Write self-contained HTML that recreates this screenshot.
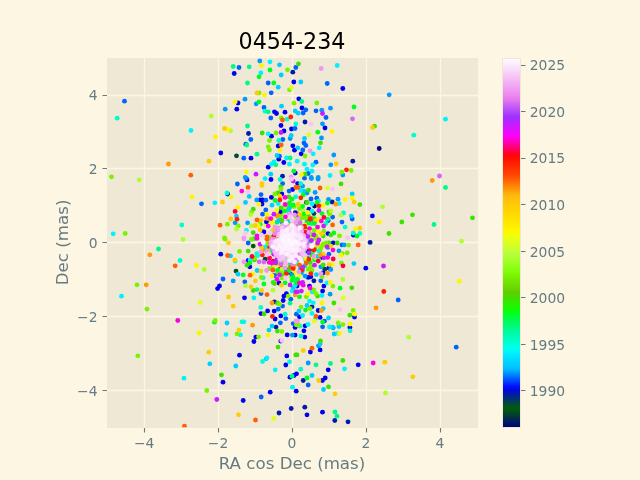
<!DOCTYPE html>
<html><head><meta charset="utf-8"><title>0454-234</title>
<style>html,body{margin:0;padding:0;background:#fdf6e3}svg{display:block}text{font-family:'DejaVu Sans','Liberation Sans',sans-serif}</style></head><body>
<svg width="640" height="480" viewBox="0 0 640 480">
<rect width="640" height="480" fill="#fdf6e3"/>
<rect x="107" y="58" width="371" height="370" fill="#eee8d5"/>
<path d="M144.5 58V428M218.5 58V428M292.5 58V428M366.5 58V428M440.5 58V428M107 390.5H478M107 316.5H478M107 242.5H478M107 168.5H478M107 95.5H478" stroke="#fdf6e3" stroke-width="1.3" fill="none"/>
<defs><clipPath id="c"><rect x="107.20" y="57.60" width="369.60" height="369.60"/></clipPath></defs>
<g clip-path="url(#c)">
<circle cx="292.0" cy="241.0" r="2.42" fill="#adff30"/>
<circle cx="297.4" cy="243.3" r="2.42" fill="#fff500"/>
<circle cx="286.7" cy="240.6" r="2.42" fill="#fff500"/>
<circle cx="274.9" cy="240.5" r="2.42" fill="#00f2ff"/>
<circle cx="284.0" cy="245.1" r="2.42" fill="#7af200"/>
<circle cx="310.2" cy="234.2" r="2.42" fill="#009bff"/>
<circle cx="293.1" cy="240.6" r="2.42" fill="#00ceff"/>
<circle cx="310.2" cy="262.6" r="2.42" fill="#40e100"/>
<circle cx="297.5" cy="250.1" r="2.42" fill="#dfff1c"/>
<circle cx="282.0" cy="248.8" r="2.42" fill="#00fdd1"/>
<circle cx="296.7" cy="231.4" r="2.42" fill="#00ceff"/>
<circle cx="287.1" cy="235.3" r="2.42" fill="#fff500"/>
<circle cx="291.7" cy="238.6" r="2.42" fill="#7af200"/>
<circle cx="276.1" cy="231.2" r="2.42" fill="#fff500"/>
<circle cx="292.1" cy="241.6" r="2.42" fill="#009bff"/>
<circle cx="297.5" cy="226.6" r="2.42" fill="#ff2100"/>
<circle cx="317.7" cy="243.7" r="2.42" fill="#fff500"/>
<circle cx="289.2" cy="231.1" r="2.42" fill="#ffcb06"/>
<circle cx="300.5" cy="268.6" r="2.42" fill="#009bff"/>
<circle cx="287.6" cy="242.0" r="2.42" fill="#adff30"/>
<circle cx="316.0" cy="236.5" r="2.42" fill="#7af200"/>
<circle cx="286.9" cy="239.5" r="2.42" fill="#00f2ff"/>
<circle cx="294.8" cy="242.3" r="2.42" fill="#ff2100"/>
<circle cx="288.8" cy="242.8" r="2.42" fill="#fff500"/>
<circle cx="286.5" cy="230.6" r="2.42" fill="#ffcb06"/>
<circle cx="292.9" cy="241.4" r="2.42" fill="#dfff1c"/>
<circle cx="292.0" cy="243.6" r="2.42" fill="#00f2ff"/>
<circle cx="321.2" cy="245.0" r="2.42" fill="#fff500"/>
<circle cx="283.1" cy="238.3" r="2.42" fill="#40e100"/>
<circle cx="278.2" cy="256.1" r="2.42" fill="#dfff1c"/>
<circle cx="276.5" cy="240.6" r="2.42" fill="#7af200"/>
<circle cx="286.2" cy="264.2" r="2.42" fill="#ffcb06"/>
<circle cx="283.4" cy="225.7" r="2.42" fill="#7af200"/>
<circle cx="292.3" cy="241.7" r="2.42" fill="#00fa88"/>
<circle cx="306.1" cy="229.8" r="2.42" fill="#adff30"/>
<circle cx="302.9" cy="237.7" r="2.42" fill="#adff30"/>
<circle cx="289.9" cy="241.1" r="2.42" fill="#00fa88"/>
<circle cx="289.9" cy="241.5" r="2.42" fill="#7af200"/>
<circle cx="292.8" cy="239.9" r="2.42" fill="#adff30"/>
<circle cx="286.2" cy="268.1" r="2.42" fill="#00fe1f"/>
<circle cx="292.5" cy="239.4" r="2.42" fill="#00ceff"/>
<circle cx="285.9" cy="271.1" r="2.42" fill="#00fe1f"/>
<circle cx="286.4" cy="206.4" r="2.42" fill="#ffcb06"/>
<circle cx="283.7" cy="257.9" r="2.42" fill="#00ceff"/>
<circle cx="290.2" cy="239.4" r="2.42" fill="#40e100"/>
<circle cx="303.0" cy="234.4" r="2.42" fill="#7af200"/>
<circle cx="305.8" cy="246.8" r="2.42" fill="#fff500"/>
<circle cx="300.1" cy="215.4" r="2.42" fill="#00fe1f"/>
<circle cx="290.6" cy="240.6" r="2.42" fill="#ff00e6"/>
<circle cx="284.0" cy="250.1" r="2.42" fill="#40e100"/>
<circle cx="289.9" cy="244.5" r="2.42" fill="#40e100"/>
<circle cx="303.9" cy="247.6" r="2.42" fill="#ffcb06"/>
<circle cx="291.9" cy="242.5" r="2.42" fill="#40e100"/>
<circle cx="282.8" cy="230.4" r="2.42" fill="#adff30"/>
<circle cx="314.6" cy="259.9" r="2.42" fill="#00fe1f"/>
<circle cx="285.7" cy="227.5" r="2.42" fill="#adff30"/>
<circle cx="295.8" cy="239.9" r="2.42" fill="#7af200"/>
<circle cx="300.8" cy="239.7" r="2.42" fill="#ff00e6"/>
<circle cx="293.9" cy="239.1" r="2.42" fill="#40e100"/>
<circle cx="299.9" cy="215.6" r="2.42" fill="#00fdd1"/>
<circle cx="296.9" cy="252.9" r="2.42" fill="#00ceff"/>
<circle cx="295.7" cy="240.2" r="2.42" fill="#7af200"/>
<circle cx="297.1" cy="260.6" r="2.42" fill="#7af200"/>
<circle cx="307.0" cy="221.9" r="2.42" fill="#009bff"/>
<circle cx="310.3" cy="220.1" r="2.42" fill="#0000ee"/>
<circle cx="281.0" cy="228.4" r="2.42" fill="#40e100"/>
<circle cx="279.7" cy="239.0" r="2.42" fill="#0000ee"/>
<circle cx="294.7" cy="251.1" r="2.42" fill="#ff2100"/>
<circle cx="290.1" cy="240.7" r="2.42" fill="#fff500"/>
<circle cx="285.9" cy="268.7" r="2.42" fill="#0055ff"/>
<circle cx="301.3" cy="252.2" r="2.42" fill="#fff500"/>
<circle cx="296.4" cy="246.4" r="2.42" fill="#fff500"/>
<circle cx="294.2" cy="233.0" r="2.42" fill="#dfff1c"/>
<circle cx="296.2" cy="238.3" r="2.42" fill="#ffcb06"/>
<circle cx="310.4" cy="268.0" r="2.42" fill="#dfff1c"/>
<circle cx="300.2" cy="241.8" r="2.42" fill="#7af200"/>
<circle cx="291.5" cy="247.9" r="2.42" fill="#dfff1c"/>
<circle cx="296.5" cy="247.0" r="2.42" fill="#fff500"/>
<circle cx="292.9" cy="243.6" r="2.42" fill="#7af200"/>
<circle cx="288.7" cy="238.8" r="2.42" fill="#40e100"/>
<circle cx="273.1" cy="252.9" r="2.42" fill="#7af200"/>
<circle cx="291.8" cy="241.1" r="2.42" fill="#00fe1f"/>
<circle cx="294.3" cy="250.7" r="2.42" fill="#40e100"/>
<circle cx="280.6" cy="218.1" r="2.42" fill="#7af200"/>
<circle cx="288.9" cy="255.4" r="2.42" fill="#fff500"/>
<circle cx="291.6" cy="241.3" r="2.42" fill="#00f2ff"/>
<circle cx="279.5" cy="244.5" r="2.42" fill="#40e100"/>
<circle cx="297.4" cy="236.6" r="2.42" fill="#00fe1f"/>
<circle cx="292.5" cy="265.0" r="2.42" fill="#00ceff"/>
<circle cx="292.0" cy="240.9" r="2.42" fill="#00fe1f"/>
<circle cx="287.9" cy="253.4" r="2.42" fill="#00fa88"/>
<circle cx="311.5" cy="222.9" r="2.42" fill="#ff00e6"/>
<circle cx="286.8" cy="245.9" r="2.42" fill="#00fe1f"/>
<circle cx="286.2" cy="240.8" r="2.42" fill="#00fe1f"/>
<circle cx="304.4" cy="226.7" r="2.42" fill="#40e100"/>
<circle cx="290.5" cy="237.7" r="2.42" fill="#00fdd1"/>
<circle cx="305.2" cy="251.6" r="2.42" fill="#ff990a"/>
<circle cx="299.8" cy="251.8" r="2.42" fill="#ff2100"/>
<circle cx="295.9" cy="240.7" r="2.42" fill="#40e100"/>
<circle cx="301.3" cy="243.0" r="2.42" fill="#00ceff"/>
<circle cx="290.9" cy="244.8" r="2.42" fill="#0000ee"/>
<circle cx="295.8" cy="239.8" r="2.42" fill="#ff00e6"/>
<circle cx="305.4" cy="242.5" r="2.42" fill="#ffcb06"/>
<circle cx="297.3" cy="251.1" r="2.42" fill="#ffcb06"/>
<circle cx="296.5" cy="263.9" r="2.42" fill="#7af200"/>
<circle cx="293.3" cy="241.9" r="2.42" fill="#adff30"/>
<circle cx="291.3" cy="241.1" r="2.42" fill="#fff500"/>
<circle cx="275.1" cy="227.8" r="2.42" fill="#40e100"/>
<circle cx="289.9" cy="246.4" r="2.42" fill="#fff500"/>
<circle cx="304.8" cy="253.3" r="2.42" fill="#00f2ff"/>
<circle cx="299.0" cy="220.4" r="2.42" fill="#40e100"/>
<circle cx="293.2" cy="236.9" r="2.42" fill="#009bff"/>
<circle cx="290.4" cy="240.2" r="2.42" fill="#fff500"/>
<circle cx="299.4" cy="251.3" r="2.42" fill="#009bff"/>
<circle cx="289.8" cy="240.3" r="2.42" fill="#7af200"/>
<circle cx="277.1" cy="222.2" r="2.42" fill="#00fe1f"/>
<circle cx="285.7" cy="244.6" r="2.42" fill="#ff00e6"/>
<circle cx="302.7" cy="226.4" r="2.42" fill="#40e100"/>
<circle cx="280.8" cy="252.0" r="2.42" fill="#00ceff"/>
<circle cx="275.8" cy="239.7" r="2.42" fill="#ff2100"/>
<circle cx="303.3" cy="252.7" r="2.42" fill="#7af200"/>
<circle cx="289.7" cy="239.8" r="2.42" fill="#7af200"/>
<circle cx="295.0" cy="206.1" r="2.42" fill="#adff30"/>
<circle cx="289.2" cy="212.7" r="2.42" fill="#ff00e6"/>
<circle cx="290.8" cy="273.8" r="2.42" fill="#0000ee"/>
<circle cx="293.3" cy="240.9" r="2.42" fill="#dfff1c"/>
<circle cx="291.0" cy="234.9" r="2.42" fill="#40e100"/>
<circle cx="289.3" cy="242.7" r="2.42" fill="#00ceff"/>
<circle cx="275.9" cy="252.3" r="2.42" fill="#ff990a"/>
<circle cx="295.9" cy="216.4" r="2.42" fill="#7af200"/>
<circle cx="296.7" cy="252.1" r="2.42" fill="#ff2100"/>
<circle cx="291.4" cy="240.1" r="2.42" fill="#00ceff"/>
<circle cx="289.0" cy="223.3" r="2.42" fill="#adff30"/>
<circle cx="280.0" cy="239.5" r="2.42" fill="#0000ee"/>
<circle cx="309.1" cy="220.2" r="2.42" fill="#ff00e6"/>
<circle cx="268.3" cy="246.6" r="2.42" fill="#ff2100"/>
<circle cx="289.1" cy="241.8" r="2.42" fill="#ff990a"/>
<circle cx="288.0" cy="262.5" r="2.42" fill="#00fe1f"/>
<circle cx="292.2" cy="240.9" r="2.42" fill="#dfff1c"/>
<circle cx="286.6" cy="255.5" r="2.42" fill="#00f2ff"/>
<circle cx="289.9" cy="234.0" r="2.42" fill="#ffcb06"/>
<circle cx="282.9" cy="247.9" r="2.42" fill="#009bff"/>
<circle cx="292.1" cy="240.9" r="2.42" fill="#dfff1c"/>
<circle cx="298.8" cy="238.3" r="2.42" fill="#adff30"/>
<circle cx="297.7" cy="242.3" r="2.42" fill="#00fa88"/>
<circle cx="318.5" cy="239.9" r="2.42" fill="#40e100"/>
<circle cx="279.8" cy="229.7" r="2.42" fill="#40e100"/>
<circle cx="320.4" cy="257.9" r="2.42" fill="#0000ee"/>
<circle cx="279.1" cy="241.3" r="2.42" fill="#0055ff"/>
<circle cx="311.3" cy="248.4" r="2.42" fill="#dfff1c"/>
<circle cx="285.8" cy="238.7" r="2.42" fill="#adff30"/>
<circle cx="302.7" cy="270.5" r="2.42" fill="#00fdd1"/>
<circle cx="273.2" cy="265.5" r="2.42" fill="#40e100"/>
<circle cx="290.7" cy="245.5" r="2.42" fill="#fff500"/>
<circle cx="282.3" cy="232.4" r="2.42" fill="#adff30"/>
<circle cx="298.2" cy="225.9" r="2.42" fill="#7af200"/>
<circle cx="292.4" cy="240.8" r="2.42" fill="#ffcb06"/>
<circle cx="291.3" cy="242.4" r="2.42" fill="#7af200"/>
<circle cx="278.9" cy="233.7" r="2.42" fill="#0000ee"/>
<circle cx="300.7" cy="241.4" r="2.42" fill="#40e100"/>
<circle cx="284.8" cy="249.8" r="2.42" fill="#00fdd1"/>
<circle cx="294.7" cy="240.2" r="2.42" fill="#adff30"/>
<circle cx="307.6" cy="258.2" r="2.42" fill="#009bff"/>
<circle cx="308.0" cy="220.8" r="2.42" fill="#ff00e6"/>
<circle cx="277.3" cy="216.1" r="2.42" fill="#7af200"/>
<circle cx="289.3" cy="252.1" r="2.42" fill="#fff500"/>
<circle cx="293.0" cy="234.5" r="2.42" fill="#40e100"/>
<circle cx="291.8" cy="241.7" r="2.42" fill="#0055ff"/>
<circle cx="298.7" cy="234.8" r="2.42" fill="#40e100"/>
<circle cx="300.5" cy="246.8" r="2.42" fill="#7af200"/>
<circle cx="300.9" cy="250.8" r="2.42" fill="#40e100"/>
<circle cx="292.0" cy="234.1" r="2.42" fill="#00fdd1"/>
<circle cx="289.2" cy="242.1" r="2.42" fill="#00f2ff"/>
<circle cx="292.3" cy="241.4" r="2.42" fill="#009bff"/>
<circle cx="269.5" cy="238.7" r="2.42" fill="#7af200"/>
<circle cx="288.2" cy="255.8" r="2.42" fill="#00f2ff"/>
<circle cx="285.0" cy="238.3" r="2.42" fill="#adff30"/>
<circle cx="291.6" cy="228.2" r="2.42" fill="#00fdd1"/>
<circle cx="308.5" cy="216.3" r="2.42" fill="#40e100"/>
<circle cx="309.0" cy="248.8" r="2.42" fill="#ff00e6"/>
<circle cx="276.5" cy="228.9" r="2.42" fill="#7af200"/>
<circle cx="294.7" cy="240.7" r="2.42" fill="#fff500"/>
<circle cx="281.9" cy="244.1" r="2.42" fill="#adff30"/>
<circle cx="293.8" cy="223.3" r="2.42" fill="#ffcb06"/>
<circle cx="305.1" cy="251.9" r="2.42" fill="#0055ff"/>
<circle cx="304.4" cy="226.0" r="2.42" fill="#dfff1c"/>
<circle cx="284.4" cy="235.9" r="2.42" fill="#00fdd1"/>
<circle cx="314.2" cy="218.7" r="2.42" fill="#00fe1f"/>
<circle cx="297.5" cy="213.3" r="2.42" fill="#ff990a"/>
<circle cx="303.3" cy="226.6" r="2.42" fill="#00fe1f"/>
<circle cx="300.9" cy="245.0" r="2.42" fill="#7af200"/>
<circle cx="288.4" cy="221.5" r="2.42" fill="#40e100"/>
<circle cx="301.3" cy="273.0" r="2.42" fill="#009bff"/>
<circle cx="289.8" cy="267.0" r="2.42" fill="#00fa88"/>
<circle cx="284.9" cy="257.6" r="2.42" fill="#00ceff"/>
<circle cx="275.6" cy="228.4" r="2.42" fill="#40e100"/>
<circle cx="291.8" cy="240.8" r="2.42" fill="#0000ee"/>
<circle cx="306.6" cy="233.0" r="2.42" fill="#fff500"/>
<circle cx="323.5" cy="244.0" r="2.42" fill="#7af200"/>
<circle cx="293.7" cy="246.5" r="2.42" fill="#0055ff"/>
<circle cx="291.4" cy="241.8" r="2.42" fill="#ff00e6"/>
<circle cx="294.0" cy="235.9" r="2.42" fill="#00fa88"/>
<circle cx="291.3" cy="240.7" r="2.42" fill="#00fe1f"/>
<circle cx="275.5" cy="239.5" r="2.42" fill="#7af200"/>
<circle cx="293.9" cy="206.6" r="2.42" fill="#7af200"/>
<circle cx="290.2" cy="237.9" r="2.42" fill="#adff30"/>
<circle cx="287.4" cy="262.5" r="2.42" fill="#7af200"/>
<circle cx="318.9" cy="260.5" r="2.42" fill="#adff30"/>
<circle cx="282.6" cy="243.7" r="2.42" fill="#00fe1f"/>
<circle cx="292.9" cy="240.0" r="2.42" fill="#dfff1c"/>
<circle cx="285.6" cy="235.6" r="2.42" fill="#ffcb06"/>
<circle cx="309.9" cy="248.4" r="2.42" fill="#009bff"/>
<circle cx="280.3" cy="246.5" r="2.42" fill="#009bff"/>
<circle cx="277.6" cy="256.1" r="2.42" fill="#00f2ff"/>
<circle cx="277.2" cy="231.0" r="2.42" fill="#00fe1f"/>
<circle cx="288.8" cy="238.7" r="2.42" fill="#00fe1f"/>
<circle cx="306.3" cy="235.6" r="2.42" fill="#fff500"/>
<circle cx="288.4" cy="247.9" r="2.42" fill="#00fa88"/>
<circle cx="286.5" cy="245.2" r="2.42" fill="#ff990a"/>
<circle cx="271.8" cy="220.2" r="2.42" fill="#fff500"/>
<circle cx="304.9" cy="227.7" r="2.42" fill="#ff2100"/>
<circle cx="291.5" cy="239.0" r="2.42" fill="#ff00e6"/>
<circle cx="291.7" cy="241.1" r="2.42" fill="#0055ff"/>
<circle cx="303.0" cy="210.6" r="2.42" fill="#adff30"/>
<circle cx="283.2" cy="242.0" r="2.42" fill="#ffcb06"/>
<circle cx="305.9" cy="237.2" r="2.42" fill="#0000ee"/>
<circle cx="291.7" cy="242.8" r="2.42" fill="#00ceff"/>
<circle cx="293.1" cy="242.3" r="2.42" fill="#00fa88"/>
<circle cx="294.7" cy="235.2" r="2.42" fill="#00f2ff"/>
<circle cx="285.5" cy="266.2" r="2.42" fill="#fff500"/>
<circle cx="292.2" cy="240.6" r="2.42" fill="#00ceff"/>
<circle cx="281.7" cy="231.0" r="2.42" fill="#ff2100"/>
<circle cx="281.8" cy="240.3" r="2.42" fill="#00fe1f"/>
<circle cx="313.9" cy="256.8" r="2.42" fill="#7af200"/>
<circle cx="292.2" cy="240.0" r="2.42" fill="#40e100"/>
<circle cx="312.6" cy="251.8" r="2.42" fill="#00fe1f"/>
<circle cx="309.6" cy="236.3" r="2.42" fill="#ffcb06"/>
<circle cx="307.5" cy="223.0" r="2.42" fill="#00fe1f"/>
<circle cx="291.0" cy="244.4" r="2.42" fill="#ff00e6"/>
<circle cx="292.6" cy="241.8" r="2.42" fill="#adff30"/>
<circle cx="292.8" cy="240.2" r="2.42" fill="#00fe1f"/>
<circle cx="291.3" cy="241.1" r="2.42" fill="#ffcb06"/>
<circle cx="302.9" cy="254.0" r="2.42" fill="#00fa88"/>
<circle cx="281.4" cy="241.1" r="2.42" fill="#00fe1f"/>
<circle cx="292.1" cy="245.9" r="2.42" fill="#ff990a"/>
<circle cx="275.2" cy="254.0" r="2.42" fill="#00f2ff"/>
<circle cx="285.8" cy="232.0" r="2.42" fill="#ff990a"/>
<circle cx="303.3" cy="233.1" r="2.42" fill="#0000ee"/>
<circle cx="298.6" cy="217.3" r="2.42" fill="#0000ee"/>
<circle cx="304.9" cy="265.6" r="2.42" fill="#00ceff"/>
<circle cx="289.4" cy="241.4" r="2.42" fill="#adff30"/>
<circle cx="291.9" cy="241.0" r="2.42" fill="#ffcb06"/>
<circle cx="317.4" cy="239.0" r="2.42" fill="#ffcb06"/>
<circle cx="316.0" cy="258.3" r="2.42" fill="#adff30"/>
<circle cx="283.1" cy="240.3" r="2.42" fill="#adff30"/>
<circle cx="304.7" cy="232.0" r="2.42" fill="#ff00e6"/>
<circle cx="286.1" cy="246.1" r="2.42" fill="#ff2100"/>
<circle cx="291.6" cy="246.7" r="2.42" fill="#0055ff"/>
<circle cx="290.9" cy="240.5" r="2.42" fill="#7af200"/>
<circle cx="291.3" cy="242.7" r="2.42" fill="#00fe1f"/>
<circle cx="310.5" cy="230.1" r="2.42" fill="#00ceff"/>
<circle cx="296.5" cy="244.1" r="2.42" fill="#fff500"/>
<circle cx="292.9" cy="244.9" r="2.42" fill="#7af200"/>
<circle cx="311.7" cy="254.6" r="2.42" fill="#adff30"/>
<circle cx="290.5" cy="233.6" r="2.42" fill="#7af200"/>
<circle cx="292.0" cy="241.1" r="2.42" fill="#0055ff"/>
<circle cx="315.8" cy="220.5" r="2.42" fill="#ffcb06"/>
<circle cx="300.4" cy="233.2" r="2.42" fill="#40e100"/>
<circle cx="298.9" cy="237.5" r="2.42" fill="#00fdd1"/>
<circle cx="290.8" cy="276.7" r="2.42" fill="#adff30"/>
<circle cx="310.5" cy="241.1" r="2.42" fill="#00fa88"/>
<circle cx="278.6" cy="254.6" r="2.42" fill="#adff30"/>
<circle cx="304.5" cy="237.4" r="2.42" fill="#7af200"/>
<circle cx="292.2" cy="238.5" r="2.42" fill="#40e100"/>
<circle cx="295.9" cy="242.8" r="2.42" fill="#009bff"/>
<circle cx="290.6" cy="235.5" r="2.42" fill="#00f2ff"/>
<circle cx="295.4" cy="238.7" r="2.42" fill="#ffcb06"/>
<circle cx="293.0" cy="240.8" r="2.42" fill="#ff00e6"/>
<circle cx="285.8" cy="207.3" r="2.42" fill="#7af200"/>
<circle cx="299.0" cy="231.4" r="2.42" fill="#40e100"/>
<circle cx="292.6" cy="239.9" r="2.42" fill="#00f2ff"/>
<circle cx="285.0" cy="251.3" r="2.42" fill="#dfff1c"/>
<circle cx="301.9" cy="249.4" r="2.42" fill="#adff30"/>
<circle cx="287.7" cy="204.8" r="2.42" fill="#7af200"/>
<circle cx="298.3" cy="249.8" r="2.42" fill="#00fa88"/>
<circle cx="291.0" cy="242.0" r="2.42" fill="#0055ff"/>
<circle cx="298.6" cy="240.8" r="2.42" fill="#ff00e6"/>
<circle cx="272.2" cy="231.7" r="2.42" fill="#00fdd1"/>
<circle cx="290.7" cy="240.8" r="2.42" fill="#adff30"/>
<circle cx="307.9" cy="234.6" r="2.42" fill="#0055ff"/>
<circle cx="290.4" cy="249.7" r="2.42" fill="#adff30"/>
<circle cx="296.4" cy="241.0" r="2.42" fill="#00f2ff"/>
<circle cx="295.6" cy="238.4" r="2.42" fill="#dfff1c"/>
<circle cx="290.6" cy="242.9" r="2.42" fill="#00f2ff"/>
<circle cx="277.7" cy="273.1" r="2.42" fill="#7af200"/>
<circle cx="295.2" cy="244.8" r="2.42" fill="#40e100"/>
<circle cx="306.2" cy="231.2" r="2.42" fill="#7af200"/>
<circle cx="298.7" cy="259.6" r="2.42" fill="#00fe1f"/>
<circle cx="306.8" cy="242.0" r="2.42" fill="#00fe1f"/>
<circle cx="300.5" cy="232.6" r="2.42" fill="#00fe1f"/>
<circle cx="268.1" cy="220.9" r="2.42" fill="#adff30"/>
<circle cx="289.2" cy="234.7" r="2.42" fill="#fff500"/>
<circle cx="290.8" cy="227.4" r="2.42" fill="#00fe1f"/>
<circle cx="295.5" cy="242.2" r="2.42" fill="#0000ee"/>
<circle cx="292.0" cy="241.0" r="2.42" fill="#00f2ff"/>
<circle cx="272.9" cy="241.0" r="2.42" fill="#009bff"/>
<circle cx="300.4" cy="244.3" r="2.42" fill="#adff30"/>
<circle cx="287.0" cy="240.8" r="2.42" fill="#fff500"/>
<circle cx="291.7" cy="236.4" r="2.42" fill="#00f2ff"/>
<circle cx="281.0" cy="221.1" r="2.42" fill="#7af200"/>
<circle cx="287.4" cy="236.1" r="2.42" fill="#40e100"/>
<circle cx="314.9" cy="249.2" r="2.42" fill="#40e100"/>
<circle cx="293.8" cy="266.1" r="2.42" fill="#ff990a"/>
<circle cx="311.6" cy="223.5" r="2.42" fill="#00fa88"/>
<circle cx="304.4" cy="255.4" r="2.42" fill="#adff30"/>
<circle cx="271.7" cy="235.9" r="2.42" fill="#7af200"/>
<circle cx="319.8" cy="251.8" r="2.42" fill="#ff990a"/>
<circle cx="296.6" cy="238.8" r="2.42" fill="#00fdd1"/>
<circle cx="297.0" cy="252.1" r="2.42" fill="#ff2100"/>
<circle cx="288.8" cy="243.4" r="2.42" fill="#ffcb06"/>
<circle cx="281.1" cy="237.1" r="2.42" fill="#40e100"/>
<circle cx="286.9" cy="210.7" r="2.42" fill="#fff500"/>
<circle cx="292.7" cy="240.6" r="2.42" fill="#adff30"/>
<circle cx="289.6" cy="207.4" r="2.42" fill="#00fe1f"/>
<circle cx="281.4" cy="258.9" r="2.42" fill="#ffcb06"/>
<circle cx="308.1" cy="250.8" r="2.42" fill="#0000ee"/>
<circle cx="287.7" cy="222.2" r="2.42" fill="#00ceff"/>
<circle cx="301.5" cy="239.0" r="2.42" fill="#ff990a"/>
<circle cx="297.6" cy="241.7" r="2.42" fill="#fff500"/>
<circle cx="292.6" cy="236.4" r="2.42" fill="#00fa88"/>
<circle cx="293.8" cy="245.4" r="2.42" fill="#ff00e6"/>
<circle cx="286.5" cy="242.7" r="2.42" fill="#adff30"/>
<circle cx="286.3" cy="240.0" r="2.42" fill="#00fdd1"/>
<circle cx="291.4" cy="240.4" r="2.42" fill="#ffcb06"/>
<circle cx="296.0" cy="240.7" r="2.42" fill="#ff00e6"/>
<circle cx="291.4" cy="239.2" r="2.42" fill="#fff500"/>
<circle cx="284.5" cy="248.2" r="2.42" fill="#adff30"/>
<circle cx="289.5" cy="227.8" r="2.42" fill="#ffcb06"/>
<circle cx="291.0" cy="241.3" r="2.42" fill="#fff500"/>
<circle cx="285.6" cy="245.6" r="2.42" fill="#7af200"/>
<circle cx="274.0" cy="265.0" r="2.42" fill="#fff500"/>
<circle cx="275.6" cy="241.8" r="2.42" fill="#ffcb06"/>
<circle cx="289.4" cy="256.8" r="2.42" fill="#0000ee"/>
<circle cx="292.1" cy="244.4" r="2.42" fill="#40e100"/>
<circle cx="296.2" cy="247.8" r="2.42" fill="#ff2100"/>
<circle cx="279.9" cy="246.7" r="2.42" fill="#00fa88"/>
<circle cx="288.7" cy="255.0" r="2.42" fill="#adff30"/>
<circle cx="294.2" cy="236.8" r="2.42" fill="#7af200"/>
<circle cx="300.6" cy="226.5" r="2.42" fill="#7af200"/>
<circle cx="279.5" cy="263.2" r="2.42" fill="#00fe1f"/>
<circle cx="291.2" cy="240.1" r="2.42" fill="#adff30"/>
<circle cx="294.8" cy="238.7" r="2.42" fill="#fff500"/>
<circle cx="278.0" cy="261.3" r="2.42" fill="#dfff1c"/>
<circle cx="289.9" cy="240.1" r="2.42" fill="#ffcb06"/>
<circle cx="271.3" cy="250.1" r="2.42" fill="#00fdd1"/>
<circle cx="279.5" cy="220.5" r="2.42" fill="#00ceff"/>
<circle cx="311.8" cy="234.9" r="2.42" fill="#7af200"/>
<circle cx="305.4" cy="259.9" r="2.42" fill="#00ceff"/>
<circle cx="300.9" cy="238.7" r="2.42" fill="#adff30"/>
<circle cx="287.0" cy="230.9" r="2.42" fill="#00fe1f"/>
<circle cx="292.7" cy="238.1" r="2.42" fill="#dfff1c"/>
<circle cx="287.1" cy="234.3" r="2.42" fill="#40e100"/>
<circle cx="296.5" cy="235.4" r="2.42" fill="#7af200"/>
<circle cx="280.5" cy="267.3" r="2.42" fill="#ff2100"/>
<circle cx="284.8" cy="209.2" r="2.42" fill="#adff30"/>
<circle cx="290.6" cy="259.0" r="2.42" fill="#ff2100"/>
<circle cx="288.3" cy="240.8" r="2.42" fill="#00fdd1"/>
<circle cx="290.3" cy="236.5" r="2.42" fill="#ff00e6"/>
<circle cx="297.8" cy="262.8" r="2.42" fill="#00f2ff"/>
<circle cx="306.0" cy="247.7" r="2.42" fill="#dfff1c"/>
<circle cx="292.9" cy="237.1" r="2.42" fill="#0055ff"/>
<circle cx="294.7" cy="232.7" r="2.42" fill="#adff30"/>
<circle cx="288.3" cy="233.6" r="2.42" fill="#ff990a"/>
<circle cx="283.4" cy="262.1" r="2.42" fill="#00fa88"/>
<circle cx="289.8" cy="237.0" r="2.42" fill="#00ceff"/>
<circle cx="312.1" cy="254.9" r="2.42" fill="#00fe1f"/>
<circle cx="282.7" cy="222.9" r="2.42" fill="#0055ff"/>
<circle cx="278.3" cy="232.5" r="2.42" fill="#0000ee"/>
<circle cx="285.4" cy="233.9" r="2.42" fill="#40e100"/>
<circle cx="267.5" cy="251.0" r="2.42" fill="#ffcb06"/>
<circle cx="293.8" cy="254.5" r="2.42" fill="#40e100"/>
<circle cx="288.1" cy="210.7" r="2.42" fill="#00fa88"/>
<circle cx="284.8" cy="243.0" r="2.42" fill="#00fdd1"/>
<circle cx="291.8" cy="234.3" r="2.42" fill="#0055ff"/>
<circle cx="277.8" cy="260.4" r="2.42" fill="#40e100"/>
<circle cx="294.9" cy="243.1" r="2.42" fill="#00fe1f"/>
<circle cx="262.6" cy="231.5" r="2.42" fill="#40e100"/>
<circle cx="283.1" cy="230.7" r="2.42" fill="#00fe1f"/>
<circle cx="294.8" cy="239.2" r="2.42" fill="#7af200"/>
<circle cx="297.6" cy="235.3" r="2.42" fill="#dfff1c"/>
<circle cx="309.7" cy="248.9" r="2.42" fill="#0000ee"/>
<circle cx="295.3" cy="212.7" r="2.42" fill="#0000ee"/>
<circle cx="290.5" cy="265.4" r="2.42" fill="#00fa88"/>
<circle cx="289.9" cy="233.7" r="2.42" fill="#00fdd1"/>
<circle cx="277.4" cy="257.4" r="2.42" fill="#009bff"/>
<circle cx="287.8" cy="251.3" r="2.42" fill="#ff990a"/>
<circle cx="283.2" cy="241.8" r="2.42" fill="#009bff"/>
<circle cx="291.1" cy="240.8" r="2.42" fill="#ffcb06"/>
<circle cx="288.5" cy="229.5" r="2.42" fill="#0055ff"/>
<circle cx="281.7" cy="226.6" r="2.42" fill="#adff30"/>
<circle cx="289.5" cy="234.7" r="2.42" fill="#00fe1f"/>
<circle cx="277.3" cy="256.6" r="2.42" fill="#7af200"/>
<circle cx="281.1" cy="214.6" r="2.42" fill="#7af200"/>
<circle cx="291.5" cy="241.9" r="2.42" fill="#00fdd1"/>
<circle cx="278.8" cy="228.4" r="2.42" fill="#009bff"/>
<circle cx="263.6" cy="249.8" r="2.42" fill="#ff990a"/>
<circle cx="291.9" cy="241.0" r="2.42" fill="#dfff1c"/>
<circle cx="304.4" cy="242.6" r="2.42" fill="#fff500"/>
<circle cx="273.2" cy="241.2" r="2.42" fill="#adff30"/>
<circle cx="295.1" cy="260.1" r="2.42" fill="#7af200"/>
<circle cx="284.5" cy="248.8" r="2.42" fill="#ffcb06"/>
<circle cx="317.7" cy="256.3" r="2.42" fill="#00ceff"/>
<circle cx="283.7" cy="226.2" r="2.42" fill="#7af200"/>
<circle cx="297.8" cy="235.5" r="2.42" fill="#00f2ff"/>
<circle cx="289.3" cy="245.1" r="2.42" fill="#adff30"/>
<circle cx="303.4" cy="251.5" r="2.42" fill="#00fe1f"/>
<circle cx="283.8" cy="231.8" r="2.42" fill="#40e100"/>
<circle cx="294.1" cy="243.5" r="2.42" fill="#00fe1f"/>
<circle cx="301.0" cy="232.3" r="2.42" fill="#7af200"/>
<circle cx="292.7" cy="241.8" r="2.42" fill="#0055ff"/>
<circle cx="278.5" cy="259.9" r="2.42" fill="#fff500"/>
<circle cx="290.0" cy="241.1" r="2.42" fill="#40e100"/>
<circle cx="292.7" cy="241.8" r="2.42" fill="#ff00e6"/>
<circle cx="284.3" cy="260.8" r="2.42" fill="#40e100"/>
<circle cx="289.2" cy="261.4" r="2.42" fill="#009bff"/>
<circle cx="291.8" cy="240.1" r="2.42" fill="#00fa88"/>
<circle cx="304.5" cy="239.7" r="2.42" fill="#40e100"/>
<circle cx="278.5" cy="259.7" r="2.42" fill="#00fe1f"/>
<circle cx="292.3" cy="239.7" r="2.42" fill="#00fa88"/>
<circle cx="305.5" cy="260.5" r="2.42" fill="#00fe1f"/>
<circle cx="266.3" cy="224.3" r="2.42" fill="#dfff1c"/>
<circle cx="272.9" cy="251.2" r="2.42" fill="#00fe1f"/>
<circle cx="288.6" cy="257.5" r="2.42" fill="#00ceff"/>
<circle cx="301.4" cy="217.8" r="2.42" fill="#adff30"/>
<circle cx="291.8" cy="232.4" r="2.42" fill="#fff500"/>
<circle cx="302.3" cy="254.7" r="2.42" fill="#7af200"/>
<circle cx="288.4" cy="256.9" r="2.42" fill="#dfff1c"/>
<circle cx="296.7" cy="228.9" r="2.42" fill="#00f2ff"/>
<circle cx="306.5" cy="240.2" r="2.42" fill="#00ceff"/>
<circle cx="285.6" cy="234.6" r="2.42" fill="#fff500"/>
<circle cx="304.9" cy="225.0" r="2.42" fill="#fff500"/>
<circle cx="315.2" cy="238.3" r="2.42" fill="#7af200"/>
<circle cx="291.6" cy="233.7" r="2.42" fill="#7af200"/>
<circle cx="289.1" cy="236.6" r="2.42" fill="#40e100"/>
<circle cx="292.1" cy="241.7" r="2.42" fill="#00fdd1"/>
<circle cx="289.9" cy="243.7" r="2.42" fill="#dfff1c"/>
<circle cx="291.3" cy="240.2" r="2.42" fill="#00fe1f"/>
<circle cx="309.9" cy="230.4" r="2.42" fill="#fff500"/>
<circle cx="282.4" cy="274.6" r="2.42" fill="#40e100"/>
<circle cx="276.6" cy="255.1" r="2.42" fill="#ffcb06"/>
<circle cx="317.4" cy="245.2" r="2.42" fill="#ffcb06"/>
<circle cx="287.3" cy="224.9" r="2.42" fill="#fff500"/>
<circle cx="277.2" cy="247.5" r="2.42" fill="#00fa88"/>
<circle cx="297.5" cy="220.1" r="2.42" fill="#adff30"/>
<circle cx="294.7" cy="272.5" r="2.42" fill="#fff500"/>
<circle cx="288.3" cy="234.2" r="2.42" fill="#dfff1c"/>
<circle cx="279.6" cy="212.9" r="2.42" fill="#ff990a"/>
<circle cx="282.1" cy="243.7" r="2.42" fill="#00ceff"/>
<circle cx="299.8" cy="263.7" r="2.42" fill="#adff30"/>
<circle cx="275.6" cy="254.6" r="2.42" fill="#dfff1c"/>
<circle cx="379.2" cy="148.5" r="2.42" fill="#000777"/>
<circle cx="314.5" cy="206.1" r="2.42" fill="#000777"/>
<circle cx="306.4" cy="202.4" r="2.42" fill="#00580f"/>
<circle cx="253.2" cy="246.1" r="2.42" fill="#00580f"/>
<circle cx="236.0" cy="271.1" r="2.42" fill="#00580f"/>
<circle cx="236.5" cy="155.8" r="2.42" fill="#004448"/>
<circle cx="313.9" cy="213.6" r="2.42" fill="#004448"/>
<circle cx="265.1" cy="259.2" r="2.42" fill="#004448"/>
<circle cx="324.8" cy="269.2" r="2.42" fill="#004448"/>
<circle cx="248.5" cy="133.5" r="2.42" fill="#001bac"/>
<circle cx="292.8" cy="72.2" r="2.42" fill="#001bac"/>
<circle cx="305.0" cy="122.0" r="2.42" fill="#001bac"/>
<circle cx="352.8" cy="161.2" r="2.42" fill="#001bac"/>
<circle cx="282.5" cy="176.2" r="2.42" fill="#001bac"/>
<circle cx="332.2" cy="202.0" r="2.42" fill="#001bac"/>
<circle cx="370.1" cy="242.4" r="2.42" fill="#001bac"/>
<circle cx="313.9" cy="280.8" r="2.42" fill="#001bac"/>
<circle cx="274.5" cy="301.8" r="2.42" fill="#001bac"/>
<circle cx="276.0" cy="327.1" r="2.42" fill="#001bac"/>
<circle cx="312.0" cy="306.8" r="2.42" fill="#001bac"/>
<circle cx="303.2" cy="380.5" r="2.42" fill="#001bac"/>
<circle cx="291.2" cy="408.5" r="2.42" fill="#001bac"/>
<circle cx="304.8" cy="407.2" r="2.42" fill="#001bac"/>
<circle cx="279.0" cy="413.0" r="2.42" fill="#001bac"/>
<circle cx="334.8" cy="420.5" r="2.42" fill="#001bac"/>
<circle cx="348.0" cy="421.8" r="2.42" fill="#001bac"/>
<circle cx="220.8" cy="153.0" r="2.42" fill="#0000ee"/>
<circle cx="234.2" cy="73.5" r="2.42" fill="#0000ee"/>
<circle cx="238.0" cy="103.0" r="2.42" fill="#0000ee"/>
<circle cx="236.8" cy="109.2" r="2.42" fill="#0000ee"/>
<circle cx="251.0" cy="158.2" r="2.42" fill="#0000ee"/>
<circle cx="293.8" cy="82.0" r="2.42" fill="#0000ee"/>
<circle cx="342.8" cy="88.5" r="2.42" fill="#0000ee"/>
<circle cx="298.8" cy="98.8" r="2.42" fill="#0000ee"/>
<circle cx="302.0" cy="108.0" r="2.42" fill="#0000ee"/>
<circle cx="274.5" cy="111.8" r="2.42" fill="#0000ee"/>
<circle cx="276.5" cy="113.5" r="2.42" fill="#0000ee"/>
<circle cx="285.0" cy="112.2" r="2.42" fill="#0000ee"/>
<circle cx="281.0" cy="125.5" r="2.42" fill="#0000ee"/>
<circle cx="291.5" cy="129.0" r="2.42" fill="#0000ee"/>
<circle cx="325.0" cy="128.0" r="2.42" fill="#0000ee"/>
<circle cx="284.0" cy="131.0" r="2.42" fill="#0000ee"/>
<circle cx="271.5" cy="136.2" r="2.42" fill="#0000ee"/>
<circle cx="278.2" cy="146.0" r="2.42" fill="#0000ee"/>
<circle cx="292.8" cy="145.8" r="2.42" fill="#0000ee"/>
<circle cx="294.5" cy="150.2" r="2.42" fill="#0000ee"/>
<circle cx="301.2" cy="153.8" r="2.42" fill="#0000ee"/>
<circle cx="278.8" cy="159.2" r="2.42" fill="#0000ee"/>
<circle cx="283.8" cy="162.5" r="2.42" fill="#0000ee"/>
<circle cx="268.2" cy="167.2" r="2.42" fill="#0000ee"/>
<circle cx="295.2" cy="173.0" r="2.42" fill="#0000ee"/>
<circle cx="247.0" cy="179.9" r="2.42" fill="#0000ee"/>
<circle cx="271.0" cy="179.5" r="2.42" fill="#0000ee"/>
<circle cx="227.6" cy="194.0" r="2.42" fill="#0000ee"/>
<circle cx="292.6" cy="189.5" r="2.42" fill="#0000ee"/>
<circle cx="281.8" cy="194.0" r="2.42" fill="#0000ee"/>
<circle cx="271.4" cy="197.4" r="2.42" fill="#0000ee"/>
<circle cx="260.1" cy="199.9" r="2.42" fill="#0000ee"/>
<circle cx="262.6" cy="199.9" r="2.42" fill="#0000ee"/>
<circle cx="262.0" cy="204.0" r="2.42" fill="#0000ee"/>
<circle cx="280.5" cy="211.5" r="2.42" fill="#0000ee"/>
<circle cx="266.4" cy="221.8" r="2.42" fill="#0000ee"/>
<circle cx="263.9" cy="232.0" r="2.42" fill="#0000ee"/>
<circle cx="297.6" cy="183.6" r="2.42" fill="#0000ee"/>
<circle cx="308.9" cy="209.2" r="2.42" fill="#0000ee"/>
<circle cx="372.4" cy="215.9" r="2.42" fill="#0000ee"/>
<circle cx="353.5" cy="235.2" r="2.42" fill="#0000ee"/>
<circle cx="328.0" cy="233.6" r="2.42" fill="#0000ee"/>
<circle cx="220.8" cy="254.2" r="2.42" fill="#0000ee"/>
<circle cx="248.2" cy="260.5" r="2.42" fill="#0000ee"/>
<circle cx="249.8" cy="266.8" r="2.42" fill="#0000ee"/>
<circle cx="278.9" cy="283.0" r="2.42" fill="#0000ee"/>
<circle cx="219.5" cy="285.9" r="2.42" fill="#0000ee"/>
<circle cx="217.6" cy="288.6" r="2.42" fill="#0000ee"/>
<circle cx="286.4" cy="293.6" r="2.42" fill="#0000ee"/>
<circle cx="283.9" cy="296.1" r="2.42" fill="#0000ee"/>
<circle cx="244.5" cy="297.8" r="2.42" fill="#0000ee"/>
<circle cx="333.2" cy="242.8" r="2.42" fill="#0000ee"/>
<circle cx="365.8" cy="268.2" r="2.42" fill="#0000ee"/>
<circle cx="328.9" cy="268.0" r="2.42" fill="#0000ee"/>
<circle cx="323.2" cy="272.8" r="2.42" fill="#0000ee"/>
<circle cx="308.2" cy="277.4" r="2.42" fill="#0000ee"/>
<circle cx="310.8" cy="276.8" r="2.42" fill="#0000ee"/>
<circle cx="323.9" cy="286.1" r="2.42" fill="#0000ee"/>
<circle cx="297.0" cy="286.1" r="2.42" fill="#0000ee"/>
<circle cx="309.5" cy="286.1" r="2.42" fill="#0000ee"/>
<circle cx="322.6" cy="291.1" r="2.42" fill="#0000ee"/>
<circle cx="283.2" cy="300.5" r="2.42" fill="#0000ee"/>
<circle cx="267.6" cy="310.9" r="2.42" fill="#0000ee"/>
<circle cx="274.2" cy="311.1" r="2.42" fill="#0000ee"/>
<circle cx="261.0" cy="313.6" r="2.42" fill="#0000ee"/>
<circle cx="280.8" cy="315.9" r="2.42" fill="#0000ee"/>
<circle cx="275.1" cy="319.0" r="2.42" fill="#0000ee"/>
<circle cx="295.1" cy="327.4" r="2.42" fill="#0000ee"/>
<circle cx="287.2" cy="334.9" r="2.42" fill="#0000ee"/>
<circle cx="295.1" cy="335.1" r="2.42" fill="#0000ee"/>
<circle cx="255.8" cy="337.1" r="2.42" fill="#0000ee"/>
<circle cx="253.9" cy="341.5" r="2.42" fill="#0000ee"/>
<circle cx="280.8" cy="341.1" r="2.42" fill="#0000ee"/>
<circle cx="239.5" cy="355.2" r="2.42" fill="#0000ee"/>
<circle cx="286.8" cy="355.9" r="2.42" fill="#0000ee"/>
<circle cx="318.2" cy="310.5" r="2.42" fill="#0000ee"/>
<circle cx="299.5" cy="316.8" r="2.42" fill="#0000ee"/>
<circle cx="354.5" cy="317.0" r="2.42" fill="#0000ee"/>
<circle cx="320.1" cy="317.4" r="2.42" fill="#0000ee"/>
<circle cx="305.1" cy="325.8" r="2.42" fill="#0000ee"/>
<circle cx="349.9" cy="327.4" r="2.42" fill="#0000ee"/>
<circle cx="303.9" cy="330.8" r="2.42" fill="#0000ee"/>
<circle cx="304.8" cy="337.1" r="2.42" fill="#0000ee"/>
<circle cx="320.1" cy="349.9" r="2.42" fill="#0000ee"/>
<circle cx="310.4" cy="352.0" r="2.42" fill="#0000ee"/>
<circle cx="223.0" cy="382.2" r="2.42" fill="#0000ee"/>
<circle cx="243.2" cy="400.5" r="2.42" fill="#0000ee"/>
<circle cx="285.8" cy="365.0" r="2.42" fill="#0000ee"/>
<circle cx="358.2" cy="364.8" r="2.42" fill="#0000ee"/>
<circle cx="328.2" cy="369.8" r="2.42" fill="#0000ee"/>
<circle cx="296.5" cy="373.8" r="2.42" fill="#0000ee"/>
<circle cx="294.0" cy="375.5" r="2.42" fill="#0000ee"/>
<circle cx="290.0" cy="377.2" r="2.42" fill="#0000ee"/>
<circle cx="325.2" cy="378.0" r="2.42" fill="#0000ee"/>
<circle cx="322.5" cy="380.5" r="2.42" fill="#0000ee"/>
<circle cx="296.2" cy="391.2" r="2.42" fill="#0000ee"/>
<circle cx="270.2" cy="392.2" r="2.42" fill="#0000ee"/>
<circle cx="307.0" cy="414.8" r="2.42" fill="#0000ee"/>
<circle cx="322.5" cy="412.2" r="2.42" fill="#0000ee"/>
<circle cx="124.5" cy="101.2" r="2.42" fill="#0063ff"/>
<circle cx="239.0" cy="67.5" r="2.42" fill="#0063ff"/>
<circle cx="264.0" cy="107.5" r="2.42" fill="#0063ff"/>
<circle cx="250.8" cy="139.5" r="2.42" fill="#0063ff"/>
<circle cx="245.8" cy="144.2" r="2.42" fill="#0063ff"/>
<circle cx="243.8" cy="158.2" r="2.42" fill="#0063ff"/>
<circle cx="295.8" cy="67.5" r="2.42" fill="#0063ff"/>
<circle cx="268.2" cy="83.0" r="2.42" fill="#0063ff"/>
<circle cx="271.2" cy="92.8" r="2.42" fill="#0063ff"/>
<circle cx="327.2" cy="83.5" r="2.42" fill="#0063ff"/>
<circle cx="305.8" cy="109.8" r="2.42" fill="#0063ff"/>
<circle cx="303.2" cy="113.0" r="2.42" fill="#0063ff"/>
<circle cx="316.0" cy="110.8" r="2.42" fill="#0063ff"/>
<circle cx="270.8" cy="118.0" r="2.42" fill="#0063ff"/>
<circle cx="326.0" cy="117.5" r="2.42" fill="#0063ff"/>
<circle cx="295.0" cy="128.5" r="2.42" fill="#0063ff"/>
<circle cx="282.8" cy="139.5" r="2.42" fill="#0063ff"/>
<circle cx="304.0" cy="143.0" r="2.42" fill="#0063ff"/>
<circle cx="305.8" cy="145.5" r="2.42" fill="#0063ff"/>
<circle cx="302.8" cy="150.0" r="2.42" fill="#0063ff"/>
<circle cx="279.5" cy="156.2" r="2.42" fill="#0063ff"/>
<circle cx="316.0" cy="162.2" r="2.42" fill="#0063ff"/>
<circle cx="308.2" cy="173.5" r="2.42" fill="#0063ff"/>
<circle cx="201.5" cy="203.8" r="2.42" fill="#0063ff"/>
<circle cx="246.4" cy="178.6" r="2.42" fill="#0063ff"/>
<circle cx="237.4" cy="184.0" r="2.42" fill="#0063ff"/>
<circle cx="282.6" cy="183.6" r="2.42" fill="#0063ff"/>
<circle cx="261.0" cy="194.6" r="2.42" fill="#0063ff"/>
<circle cx="289.1" cy="191.1" r="2.42" fill="#0063ff"/>
<circle cx="265.8" cy="200.2" r="2.42" fill="#0063ff"/>
<circle cx="265.8" cy="209.9" r="2.42" fill="#0063ff"/>
<circle cx="262.6" cy="214.2" r="2.42" fill="#0063ff"/>
<circle cx="304.5" cy="178.2" r="2.42" fill="#0063ff"/>
<circle cx="311.0" cy="199.0" r="2.42" fill="#0063ff"/>
<circle cx="316.8" cy="198.2" r="2.42" fill="#0063ff"/>
<circle cx="352.2" cy="219.0" r="2.42" fill="#0063ff"/>
<circle cx="332.6" cy="217.1" r="2.42" fill="#0063ff"/>
<circle cx="328.2" cy="220.5" r="2.42" fill="#0063ff"/>
<circle cx="342.0" cy="222.1" r="2.42" fill="#0063ff"/>
<circle cx="248.2" cy="243.0" r="2.42" fill="#0063ff"/>
<circle cx="274.5" cy="275.5" r="2.42" fill="#0063ff"/>
<circle cx="223.0" cy="279.0" r="2.42" fill="#0063ff"/>
<circle cx="244.8" cy="281.8" r="2.42" fill="#0063ff"/>
<circle cx="261.0" cy="293.6" r="2.42" fill="#0063ff"/>
<circle cx="342.0" cy="244.9" r="2.42" fill="#0063ff"/>
<circle cx="328.9" cy="254.2" r="2.42" fill="#0063ff"/>
<circle cx="320.8" cy="280.8" r="2.42" fill="#0063ff"/>
<circle cx="282.6" cy="306.1" r="2.42" fill="#0063ff"/>
<circle cx="290.8" cy="299.2" r="2.42" fill="#0063ff"/>
<circle cx="278.2" cy="309.2" r="2.42" fill="#0063ff"/>
<circle cx="285.8" cy="318.6" r="2.42" fill="#0063ff"/>
<circle cx="280.4" cy="322.8" r="2.42" fill="#0063ff"/>
<circle cx="296.4" cy="314.2" r="2.42" fill="#0063ff"/>
<circle cx="293.2" cy="323.6" r="2.42" fill="#0063ff"/>
<circle cx="324.5" cy="321.1" r="2.42" fill="#0063ff"/>
<circle cx="322.6" cy="326.8" r="2.42" fill="#0063ff"/>
<circle cx="261.2" cy="397.0" r="2.42" fill="#0063ff"/>
<circle cx="308.2" cy="385.0" r="2.42" fill="#0063ff"/>
<circle cx="398.2" cy="300.0" r="2.42" fill="#0063ff"/>
<circle cx="456.2" cy="347.2" r="2.42" fill="#0063ff"/>
<circle cx="225.2" cy="109.2" r="2.42" fill="#009bff"/>
<circle cx="259.8" cy="61.0" r="2.42" fill="#009bff"/>
<circle cx="245.0" cy="99.2" r="2.42" fill="#009bff"/>
<circle cx="256.2" cy="103.8" r="2.42" fill="#009bff"/>
<circle cx="245.2" cy="177.5" r="2.42" fill="#009bff"/>
<circle cx="389.2" cy="94.8" r="2.42" fill="#009bff"/>
<circle cx="321.8" cy="110.2" r="2.42" fill="#009bff"/>
<circle cx="330.5" cy="108.2" r="2.42" fill="#009bff"/>
<circle cx="322.5" cy="123.8" r="2.42" fill="#009bff"/>
<circle cx="290.2" cy="138.5" r="2.42" fill="#009bff"/>
<circle cx="321.5" cy="138.0" r="2.42" fill="#009bff"/>
<circle cx="333.8" cy="155.0" r="2.42" fill="#009bff"/>
<circle cx="330.8" cy="164.8" r="2.42" fill="#009bff"/>
<circle cx="342.8" cy="175.0" r="2.42" fill="#009bff"/>
<circle cx="318.2" cy="177.5" r="2.42" fill="#009bff"/>
<circle cx="311.2" cy="177.5" r="2.42" fill="#009bff"/>
<circle cx="256.8" cy="199.9" r="2.42" fill="#009bff"/>
<circle cx="235.1" cy="222.8" r="2.42" fill="#009bff"/>
<circle cx="247.6" cy="222.8" r="2.42" fill="#009bff"/>
<circle cx="311.4" cy="178.6" r="2.42" fill="#009bff"/>
<circle cx="318.0" cy="179.0" r="2.42" fill="#009bff"/>
<circle cx="302.6" cy="186.1" r="2.42" fill="#009bff"/>
<circle cx="307.0" cy="193.0" r="2.42" fill="#009bff"/>
<circle cx="315.1" cy="192.4" r="2.42" fill="#009bff"/>
<circle cx="328.5" cy="199.5" r="2.42" fill="#009bff"/>
<circle cx="338.0" cy="199.2" r="2.42" fill="#009bff"/>
<circle cx="292.0" cy="274.9" r="2.42" fill="#009bff"/>
<circle cx="233.2" cy="280.9" r="2.42" fill="#009bff"/>
<circle cx="344.2" cy="244.9" r="2.42" fill="#009bff"/>
<circle cx="328.0" cy="247.4" r="2.42" fill="#009bff"/>
<circle cx="338.9" cy="250.8" r="2.42" fill="#009bff"/>
<circle cx="320.8" cy="266.8" r="2.42" fill="#009bff"/>
<circle cx="330.8" cy="269.5" r="2.42" fill="#009bff"/>
<circle cx="305.1" cy="276.1" r="2.42" fill="#009bff"/>
<circle cx="330.1" cy="294.2" r="2.42" fill="#009bff"/>
<circle cx="292.4" cy="335.1" r="2.42" fill="#009bff"/>
<circle cx="333.2" cy="327.8" r="2.42" fill="#009bff"/>
<circle cx="318.5" cy="345.8" r="2.42" fill="#009bff"/>
<circle cx="308.2" cy="363.0" r="2.42" fill="#009bff"/>
<circle cx="279.5" cy="64.8" r="2.42" fill="#00ceff"/>
<circle cx="281.2" cy="75.0" r="2.42" fill="#00ceff"/>
<circle cx="278.2" cy="87.2" r="2.42" fill="#00ceff"/>
<circle cx="300.8" cy="82.0" r="2.42" fill="#00ceff"/>
<circle cx="281.5" cy="106.2" r="2.42" fill="#00ceff"/>
<circle cx="295.2" cy="111.0" r="2.42" fill="#00ceff"/>
<circle cx="298.2" cy="113.2" r="2.42" fill="#00ceff"/>
<circle cx="291.2" cy="135.5" r="2.42" fill="#00ceff"/>
<circle cx="304.5" cy="138.5" r="2.42" fill="#00ceff"/>
<circle cx="297.8" cy="147.8" r="2.42" fill="#00ceff"/>
<circle cx="277.0" cy="155.5" r="2.42" fill="#00ceff"/>
<circle cx="270.8" cy="174.2" r="2.42" fill="#00ceff"/>
<circle cx="249.2" cy="196.4" r="2.42" fill="#00ceff"/>
<circle cx="245.5" cy="202.4" r="2.42" fill="#00ceff"/>
<circle cx="272.0" cy="205.2" r="2.42" fill="#00ceff"/>
<circle cx="288.9" cy="208.6" r="2.42" fill="#00ceff"/>
<circle cx="236.4" cy="216.1" r="2.42" fill="#00ceff"/>
<circle cx="278.2" cy="221.1" r="2.42" fill="#00ceff"/>
<circle cx="303.9" cy="191.1" r="2.42" fill="#00ceff"/>
<circle cx="352.2" cy="194.0" r="2.42" fill="#00ceff"/>
<circle cx="351.4" cy="216.1" r="2.42" fill="#00ceff"/>
<circle cx="230.5" cy="255.9" r="2.42" fill="#00ceff"/>
<circle cx="238.0" cy="274.2" r="2.42" fill="#00ceff"/>
<circle cx="257.2" cy="270.5" r="2.42" fill="#00ceff"/>
<circle cx="293.2" cy="288.0" r="2.42" fill="#00ceff"/>
<circle cx="353.9" cy="263.6" r="2.42" fill="#00ceff"/>
<circle cx="316.4" cy="274.6" r="2.42" fill="#00ceff"/>
<circle cx="227.0" cy="323.0" r="2.42" fill="#00ceff"/>
<circle cx="272.0" cy="326.1" r="2.42" fill="#00ceff"/>
<circle cx="268.9" cy="330.1" r="2.42" fill="#00ceff"/>
<circle cx="307.0" cy="305.5" r="2.42" fill="#00ceff"/>
<circle cx="323.2" cy="308.6" r="2.42" fill="#00ceff"/>
<circle cx="298.9" cy="311.1" r="2.42" fill="#00ceff"/>
<circle cx="328.5" cy="318.0" r="2.42" fill="#00ceff"/>
<circle cx="338.9" cy="326.5" r="2.42" fill="#00ceff"/>
<circle cx="332.4" cy="327.1" r="2.42" fill="#00ceff"/>
<circle cx="334.2" cy="334.0" r="2.42" fill="#00ceff"/>
<circle cx="320.1" cy="344.0" r="2.42" fill="#00ceff"/>
<circle cx="209.8" cy="363.8" r="2.42" fill="#00ceff"/>
<circle cx="235.8" cy="366.0" r="2.42" fill="#00ceff"/>
<circle cx="266.2" cy="358.8" r="2.42" fill="#00ceff"/>
<circle cx="312.0" cy="375.5" r="2.42" fill="#00ceff"/>
<circle cx="323.5" cy="389.5" r="2.42" fill="#00ceff"/>
<circle cx="191.0" cy="130.5" r="2.42" fill="#00f2ff"/>
<circle cx="260.8" cy="73.0" r="2.42" fill="#00f2ff"/>
<circle cx="270.0" cy="61.8" r="2.42" fill="#00f2ff"/>
<circle cx="337.2" cy="65.5" r="2.42" fill="#00f2ff"/>
<circle cx="268.2" cy="133.8" r="2.42" fill="#00f2ff"/>
<circle cx="319.2" cy="147.8" r="2.42" fill="#00f2ff"/>
<circle cx="313.2" cy="153.8" r="2.42" fill="#00f2ff"/>
<circle cx="286.5" cy="158.0" r="2.42" fill="#00f2ff"/>
<circle cx="274.0" cy="161.8" r="2.42" fill="#00f2ff"/>
<circle cx="297.2" cy="161.2" r="2.42" fill="#00f2ff"/>
<circle cx="289.5" cy="164.2" r="2.42" fill="#00f2ff"/>
<circle cx="271.5" cy="164.2" r="2.42" fill="#00f2ff"/>
<circle cx="304.5" cy="164.2" r="2.42" fill="#00f2ff"/>
<circle cx="312.8" cy="165.0" r="2.42" fill="#00f2ff"/>
<circle cx="307.0" cy="169.2" r="2.42" fill="#00f2ff"/>
<circle cx="312.0" cy="171.2" r="2.42" fill="#00f2ff"/>
<circle cx="330.0" cy="175.5" r="2.42" fill="#00f2ff"/>
<circle cx="445.5" cy="119.2" r="2.42" fill="#00f2ff"/>
<circle cx="214.8" cy="202.8" r="2.42" fill="#00f2ff"/>
<circle cx="113.2" cy="233.8" r="2.42" fill="#00f2ff"/>
<circle cx="121.5" cy="296.2" r="2.42" fill="#00f2ff"/>
<circle cx="265.1" cy="178.6" r="2.42" fill="#00f2ff"/>
<circle cx="278.2" cy="203.6" r="2.42" fill="#00f2ff"/>
<circle cx="246.4" cy="230.5" r="2.42" fill="#00f2ff"/>
<circle cx="300.8" cy="190.5" r="2.42" fill="#00f2ff"/>
<circle cx="318.5" cy="201.1" r="2.42" fill="#00f2ff"/>
<circle cx="339.2" cy="203.6" r="2.42" fill="#00f2ff"/>
<circle cx="312.0" cy="204.0" r="2.42" fill="#00f2ff"/>
<circle cx="312.0" cy="211.1" r="2.42" fill="#00f2ff"/>
<circle cx="265.1" cy="246.8" r="2.42" fill="#00f2ff"/>
<circle cx="257.6" cy="255.5" r="2.42" fill="#00f2ff"/>
<circle cx="250.1" cy="259.9" r="2.42" fill="#00f2ff"/>
<circle cx="292.0" cy="291.1" r="2.42" fill="#00f2ff"/>
<circle cx="253.9" cy="297.8" r="2.42" fill="#00f2ff"/>
<circle cx="295.1" cy="285.5" r="2.42" fill="#00f2ff"/>
<circle cx="318.9" cy="251.1" r="2.42" fill="#00f2ff"/>
<circle cx="327.0" cy="282.8" r="2.42" fill="#00f2ff"/>
<circle cx="312.0" cy="291.8" r="2.42" fill="#00f2ff"/>
<circle cx="322.0" cy="295.5" r="2.42" fill="#00f2ff"/>
<circle cx="243.9" cy="321.8" r="2.42" fill="#00f2ff"/>
<circle cx="240.5" cy="334.9" r="2.42" fill="#00f2ff"/>
<circle cx="226.0" cy="334.6" r="2.42" fill="#00f2ff"/>
<circle cx="267.0" cy="357.8" r="2.42" fill="#00f2ff"/>
<circle cx="309.5" cy="301.1" r="2.42" fill="#00f2ff"/>
<circle cx="313.2" cy="302.8" r="2.42" fill="#00f2ff"/>
<circle cx="312.0" cy="313.4" r="2.42" fill="#00f2ff"/>
<circle cx="302.6" cy="315.5" r="2.42" fill="#00f2ff"/>
<circle cx="315.5" cy="318.6" r="2.42" fill="#00f2ff"/>
<circle cx="308.0" cy="324.5" r="2.42" fill="#00f2ff"/>
<circle cx="329.5" cy="327.0" r="2.42" fill="#00f2ff"/>
<circle cx="338.0" cy="333.4" r="2.42" fill="#00f2ff"/>
<circle cx="184.0" cy="378.2" r="2.42" fill="#00f2ff"/>
<circle cx="275.2" cy="369.8" r="2.42" fill="#00f2ff"/>
<circle cx="344.5" cy="368.8" r="2.42" fill="#00f2ff"/>
<circle cx="292.5" cy="387.2" r="2.42" fill="#00f2ff"/>
<circle cx="117.2" cy="118.2" r="2.42" fill="#00fdd1"/>
<circle cx="265.0" cy="111.2" r="2.42" fill="#00fdd1"/>
<circle cx="287.0" cy="119.2" r="2.42" fill="#00fdd1"/>
<circle cx="295.8" cy="124.0" r="2.42" fill="#00fdd1"/>
<circle cx="413.8" cy="135.2" r="2.42" fill="#00fdd1"/>
<circle cx="278.8" cy="140.5" r="2.42" fill="#00fdd1"/>
<circle cx="181.8" cy="225.0" r="2.42" fill="#00fdd1"/>
<circle cx="180.0" cy="260.5" r="2.42" fill="#00fdd1"/>
<circle cx="280.1" cy="179.5" r="2.42" fill="#00fdd1"/>
<circle cx="227.0" cy="193.0" r="2.42" fill="#00fdd1"/>
<circle cx="295.8" cy="196.8" r="2.42" fill="#00fdd1"/>
<circle cx="300.8" cy="183.6" r="2.42" fill="#00fdd1"/>
<circle cx="343.5" cy="213.0" r="2.42" fill="#00fdd1"/>
<circle cx="345.1" cy="227.1" r="2.42" fill="#00fdd1"/>
<circle cx="325.8" cy="223.6" r="2.42" fill="#00fdd1"/>
<circle cx="353.2" cy="233.0" r="2.42" fill="#00fdd1"/>
<circle cx="359.9" cy="233.4" r="2.42" fill="#00fdd1"/>
<circle cx="235.1" cy="261.1" r="2.42" fill="#00fdd1"/>
<circle cx="256.8" cy="253.6" r="2.42" fill="#00fdd1"/>
<circle cx="263.2" cy="277.8" r="2.42" fill="#00fdd1"/>
<circle cx="295.8" cy="280.5" r="2.42" fill="#00fdd1"/>
<circle cx="260.8" cy="307.4" r="2.42" fill="#00fdd1"/>
<circle cx="285.1" cy="314.2" r="2.42" fill="#00fdd1"/>
<circle cx="242.0" cy="321.8" r="2.42" fill="#00fdd1"/>
<circle cx="300.1" cy="326.1" r="2.42" fill="#00fdd1"/>
<circle cx="350.1" cy="330.8" r="2.42" fill="#00fdd1"/>
<circle cx="301.0" cy="336.1" r="2.42" fill="#00fdd1"/>
<circle cx="262.5" cy="361.5" r="2.42" fill="#00fdd1"/>
<circle cx="289.5" cy="361.8" r="2.42" fill="#00fdd1"/>
<circle cx="300.8" cy="369.2" r="2.42" fill="#00fdd1"/>
<circle cx="233.2" cy="66.5" r="2.42" fill="#00fa88"/>
<circle cx="249.2" cy="66.8" r="2.42" fill="#00fa88"/>
<circle cx="247.5" cy="83.0" r="2.42" fill="#00fa88"/>
<circle cx="247.5" cy="126.0" r="2.42" fill="#00fa88"/>
<circle cx="246.8" cy="145.0" r="2.42" fill="#00fa88"/>
<circle cx="257.0" cy="154.2" r="2.42" fill="#00fa88"/>
<circle cx="301.8" cy="101.5" r="2.42" fill="#00fa88"/>
<circle cx="268.2" cy="111.8" r="2.42" fill="#00fa88"/>
<circle cx="290.2" cy="158.0" r="2.42" fill="#00fa88"/>
<circle cx="275.8" cy="164.8" r="2.42" fill="#00fa88"/>
<circle cx="158.5" cy="249.0" r="2.42" fill="#00fa88"/>
<circle cx="327.6" cy="219.2" r="2.42" fill="#00fa88"/>
<circle cx="257.0" cy="289.6" r="2.42" fill="#00fa88"/>
<circle cx="290.1" cy="303.2" r="2.42" fill="#00fa88"/>
<circle cx="316.0" cy="364.8" r="2.42" fill="#00fa88"/>
<circle cx="330.5" cy="363.5" r="2.42" fill="#00fa88"/>
<circle cx="292.0" cy="376.2" r="2.42" fill="#00fa88"/>
<circle cx="335.0" cy="412.0" r="2.42" fill="#00fa88"/>
<circle cx="337.0" cy="416.2" r="2.42" fill="#00fa88"/>
<circle cx="445.5" cy="187.5" r="2.42" fill="#00fa88"/>
<circle cx="434.0" cy="224.5" r="2.42" fill="#00fa88"/>
<circle cx="259.0" cy="76.8" r="2.42" fill="#00fe1f"/>
<circle cx="259.0" cy="101.8" r="2.42" fill="#00fe1f"/>
<circle cx="270.0" cy="70.0" r="2.42" fill="#00fe1f"/>
<circle cx="273.8" cy="83.0" r="2.42" fill="#00fe1f"/>
<circle cx="354.0" cy="107.0" r="2.42" fill="#00fe1f"/>
<circle cx="317.8" cy="132.2" r="2.42" fill="#00fe1f"/>
<circle cx="293.8" cy="171.2" r="2.42" fill="#00fe1f"/>
<circle cx="292.0" cy="199.2" r="2.42" fill="#00fe1f"/>
<circle cx="275.1" cy="200.5" r="2.42" fill="#00fe1f"/>
<circle cx="289.5" cy="203.0" r="2.42" fill="#00fe1f"/>
<circle cx="293.2" cy="204.9" r="2.42" fill="#00fe1f"/>
<circle cx="284.5" cy="211.1" r="2.42" fill="#00fe1f"/>
<circle cx="260.1" cy="224.2" r="2.42" fill="#00fe1f"/>
<circle cx="303.2" cy="194.9" r="2.42" fill="#00fe1f"/>
<circle cx="327.4" cy="203.0" r="2.42" fill="#00fe1f"/>
<circle cx="317.0" cy="202.4" r="2.42" fill="#00fe1f"/>
<circle cx="302.6" cy="206.5" r="2.42" fill="#00fe1f"/>
<circle cx="322.0" cy="213.6" r="2.42" fill="#00fe1f"/>
<circle cx="303.9" cy="214.2" r="2.42" fill="#00fe1f"/>
<circle cx="314.5" cy="223.6" r="2.42" fill="#00fe1f"/>
<circle cx="308.9" cy="223.0" r="2.42" fill="#00fe1f"/>
<circle cx="357.0" cy="236.1" r="2.42" fill="#00fe1f"/>
<circle cx="333.9" cy="233.0" r="2.42" fill="#00fe1f"/>
<circle cx="254.5" cy="238.6" r="2.42" fill="#00fe1f"/>
<circle cx="249.8" cy="263.0" r="2.42" fill="#00fe1f"/>
<circle cx="243.2" cy="274.9" r="2.42" fill="#00fe1f"/>
<circle cx="277.6" cy="270.2" r="2.42" fill="#00fe1f"/>
<circle cx="288.9" cy="271.1" r="2.42" fill="#00fe1f"/>
<circle cx="293.2" cy="277.4" r="2.42" fill="#00fe1f"/>
<circle cx="263.9" cy="284.0" r="2.42" fill="#00fe1f"/>
<circle cx="273.2" cy="282.4" r="2.42" fill="#00fe1f"/>
<circle cx="285.1" cy="282.8" r="2.42" fill="#00fe1f"/>
<circle cx="292.0" cy="280.5" r="2.42" fill="#00fe1f"/>
<circle cx="296.4" cy="283.0" r="2.42" fill="#00fe1f"/>
<circle cx="340.1" cy="288.2" r="2.42" fill="#00fe1f"/>
<circle cx="297.6" cy="279.2" r="2.42" fill="#00fe1f"/>
<circle cx="299.5" cy="296.8" r="2.42" fill="#00fe1f"/>
<circle cx="305.5" cy="310.1" r="2.42" fill="#00fe1f"/>
<circle cx="322.6" cy="322.1" r="2.42" fill="#00fe1f"/>
<circle cx="214.5" cy="322.2" r="2.42" fill="#00fe1f"/>
<circle cx="307.0" cy="378.0" r="2.42" fill="#00fe1f"/>
<circle cx="262.2" cy="133.0" r="2.42" fill="#40e100"/>
<circle cx="298.5" cy="63.8" r="2.42" fill="#40e100"/>
<circle cx="374.5" cy="126.2" r="2.42" fill="#40e100"/>
<circle cx="320.5" cy="142.8" r="2.42" fill="#40e100"/>
<circle cx="305.0" cy="174.2" r="2.42" fill="#40e100"/>
<circle cx="280.8" cy="187.0" r="2.42" fill="#40e100"/>
<circle cx="278.0" cy="193.0" r="2.42" fill="#40e100"/>
<circle cx="288.9" cy="196.8" r="2.42" fill="#40e100"/>
<circle cx="281.1" cy="207.8" r="2.42" fill="#40e100"/>
<circle cx="253.2" cy="209.2" r="2.42" fill="#40e100"/>
<circle cx="282.0" cy="220.5" r="2.42" fill="#40e100"/>
<circle cx="253.2" cy="232.6" r="2.42" fill="#40e100"/>
<circle cx="341.0" cy="183.9" r="2.42" fill="#40e100"/>
<circle cx="308.5" cy="190.1" r="2.42" fill="#40e100"/>
<circle cx="359.9" cy="204.6" r="2.42" fill="#40e100"/>
<circle cx="307.2" cy="202.4" r="2.42" fill="#40e100"/>
<circle cx="328.9" cy="211.8" r="2.42" fill="#40e100"/>
<circle cx="330.8" cy="234.9" r="2.42" fill="#40e100"/>
<circle cx="323.2" cy="236.1" r="2.42" fill="#40e100"/>
<circle cx="248.2" cy="251.1" r="2.42" fill="#40e100"/>
<circle cx="254.5" cy="259.9" r="2.42" fill="#40e100"/>
<circle cx="247.0" cy="265.2" r="2.42" fill="#40e100"/>
<circle cx="274.5" cy="283.6" r="2.42" fill="#40e100"/>
<circle cx="253.2" cy="290.5" r="2.42" fill="#40e100"/>
<circle cx="337.2" cy="243.0" r="2.42" fill="#40e100"/>
<circle cx="328.9" cy="242.8" r="2.42" fill="#40e100"/>
<circle cx="323.2" cy="264.9" r="2.42" fill="#40e100"/>
<circle cx="351.8" cy="287.8" r="2.42" fill="#40e100"/>
<circle cx="317.6" cy="296.1" r="2.42" fill="#40e100"/>
<circle cx="277.6" cy="303.2" r="2.42" fill="#40e100"/>
<circle cx="264.1" cy="314.0" r="2.42" fill="#40e100"/>
<circle cx="277.4" cy="331.1" r="2.42" fill="#40e100"/>
<circle cx="278.0" cy="347.1" r="2.42" fill="#40e100"/>
<circle cx="295.8" cy="354.9" r="2.42" fill="#40e100"/>
<circle cx="333.9" cy="303.0" r="2.42" fill="#40e100"/>
<circle cx="349.9" cy="315.2" r="2.42" fill="#40e100"/>
<circle cx="320.5" cy="340.9" r="2.42" fill="#40e100"/>
<circle cx="297.0" cy="354.9" r="2.42" fill="#40e100"/>
<circle cx="221.5" cy="374.8" r="2.42" fill="#40e100"/>
<circle cx="342.8" cy="360.5" r="2.42" fill="#40e100"/>
<circle cx="328.5" cy="386.8" r="2.42" fill="#40e100"/>
<circle cx="412.5" cy="214.8" r="2.42" fill="#40e100"/>
<circle cx="401.8" cy="222.0" r="2.42" fill="#40e100"/>
<circle cx="389.0" cy="233.5" r="2.42" fill="#40e100"/>
<circle cx="472.5" cy="217.8" r="2.42" fill="#40e100"/>
<circle cx="111.5" cy="176.8" r="2.42" fill="#7af200"/>
<circle cx="259.0" cy="93.0" r="2.42" fill="#7af200"/>
<circle cx="287.5" cy="69.8" r="2.42" fill="#7af200"/>
<circle cx="289.5" cy="89.8" r="2.42" fill="#7af200"/>
<circle cx="294.0" cy="103.2" r="2.42" fill="#7af200"/>
<circle cx="316.8" cy="103.0" r="2.42" fill="#7af200"/>
<circle cx="281.2" cy="118.0" r="2.42" fill="#7af200"/>
<circle cx="276.0" cy="133.0" r="2.42" fill="#7af200"/>
<circle cx="269.5" cy="140.5" r="2.42" fill="#7af200"/>
<circle cx="268.2" cy="146.8" r="2.42" fill="#7af200"/>
<circle cx="269.5" cy="150.0" r="2.42" fill="#7af200"/>
<circle cx="305.0" cy="156.0" r="2.42" fill="#7af200"/>
<circle cx="351.2" cy="170.5" r="2.42" fill="#7af200"/>
<circle cx="341.8" cy="172.0" r="2.42" fill="#7af200"/>
<circle cx="125.2" cy="233.5" r="2.42" fill="#7af200"/>
<circle cx="137.0" cy="284.8" r="2.42" fill="#7af200"/>
<circle cx="281.0" cy="189.0" r="2.42" fill="#7af200"/>
<circle cx="274.8" cy="194.0" r="2.42" fill="#7af200"/>
<circle cx="251.4" cy="212.4" r="2.42" fill="#7af200"/>
<circle cx="227.4" cy="224.2" r="2.42" fill="#7af200"/>
<circle cx="238.2" cy="225.9" r="2.42" fill="#7af200"/>
<circle cx="224.5" cy="237.8" r="2.42" fill="#7af200"/>
<circle cx="299.5" cy="208.6" r="2.42" fill="#7af200"/>
<circle cx="329.8" cy="214.2" r="2.42" fill="#7af200"/>
<circle cx="302.0" cy="218.0" r="2.42" fill="#7af200"/>
<circle cx="305.8" cy="218.0" r="2.42" fill="#7af200"/>
<circle cx="339.5" cy="235.8" r="2.42" fill="#7af200"/>
<circle cx="314.5" cy="230.5" r="2.42" fill="#7af200"/>
<circle cx="323.9" cy="231.1" r="2.42" fill="#7af200"/>
<circle cx="225.1" cy="239.2" r="2.42" fill="#7af200"/>
<circle cx="251.4" cy="239.5" r="2.42" fill="#7af200"/>
<circle cx="267.6" cy="243.6" r="2.42" fill="#7af200"/>
<circle cx="239.5" cy="251.4" r="2.42" fill="#7af200"/>
<circle cx="254.5" cy="258.0" r="2.42" fill="#7af200"/>
<circle cx="269.5" cy="268.6" r="2.42" fill="#7af200"/>
<circle cx="261.4" cy="277.4" r="2.42" fill="#7af200"/>
<circle cx="281.4" cy="272.4" r="2.42" fill="#7af200"/>
<circle cx="282.0" cy="278.0" r="2.42" fill="#7af200"/>
<circle cx="288.2" cy="296.1" r="2.42" fill="#7af200"/>
<circle cx="348.6" cy="245.1" r="2.42" fill="#7af200"/>
<circle cx="326.4" cy="243.0" r="2.42" fill="#7af200"/>
<circle cx="320.8" cy="248.6" r="2.42" fill="#7af200"/>
<circle cx="322.6" cy="245.5" r="2.42" fill="#7af200"/>
<circle cx="347.2" cy="252.8" r="2.42" fill="#7af200"/>
<circle cx="342.2" cy="253.6" r="2.42" fill="#7af200"/>
<circle cx="310.8" cy="266.8" r="2.42" fill="#7af200"/>
<circle cx="341.4" cy="263.0" r="2.42" fill="#7af200"/>
<circle cx="312.0" cy="270.5" r="2.42" fill="#7af200"/>
<circle cx="308.2" cy="269.2" r="2.42" fill="#7af200"/>
<circle cx="322.0" cy="276.8" r="2.42" fill="#7af200"/>
<circle cx="332.9" cy="286.1" r="2.42" fill="#7af200"/>
<circle cx="313.9" cy="289.9" r="2.42" fill="#7af200"/>
<circle cx="315.8" cy="293.6" r="2.42" fill="#7af200"/>
<circle cx="306.4" cy="296.8" r="2.42" fill="#7af200"/>
<circle cx="279.5" cy="304.2" r="2.42" fill="#7af200"/>
<circle cx="296.4" cy="324.9" r="2.42" fill="#7af200"/>
<circle cx="237.0" cy="333.9" r="2.42" fill="#7af200"/>
<circle cx="281.8" cy="331.4" r="2.42" fill="#7af200"/>
<circle cx="258.6" cy="336.8" r="2.42" fill="#7af200"/>
<circle cx="301.0" cy="307.1" r="2.42" fill="#7af200"/>
<circle cx="310.1" cy="308.6" r="2.42" fill="#7af200"/>
<circle cx="353.2" cy="310.5" r="2.42" fill="#7af200"/>
<circle cx="298.2" cy="324.9" r="2.42" fill="#7af200"/>
<circle cx="338.2" cy="323.0" r="2.42" fill="#7af200"/>
<circle cx="342.9" cy="324.6" r="2.42" fill="#7af200"/>
<circle cx="147.0" cy="309.2" r="2.42" fill="#7af200"/>
<circle cx="215.2" cy="320.5" r="2.42" fill="#7af200"/>
<circle cx="137.8" cy="355.8" r="2.42" fill="#7af200"/>
<circle cx="206.8" cy="390.5" r="2.42" fill="#7af200"/>
<circle cx="211.2" cy="116.0" r="2.42" fill="#adff30"/>
<circle cx="230.5" cy="130.8" r="2.42" fill="#adff30"/>
<circle cx="139.2" cy="179.8" r="2.42" fill="#adff30"/>
<circle cx="183.0" cy="239.5" r="2.42" fill="#adff30"/>
<circle cx="204.2" cy="269.5" r="2.42" fill="#adff30"/>
<circle cx="250.8" cy="214.6" r="2.42" fill="#adff30"/>
<circle cx="236.6" cy="229.0" r="2.42" fill="#adff30"/>
<circle cx="251.4" cy="225.9" r="2.42" fill="#adff30"/>
<circle cx="330.8" cy="210.8" r="2.42" fill="#adff30"/>
<circle cx="340.8" cy="214.9" r="2.42" fill="#adff30"/>
<circle cx="282.0" cy="269.2" r="2.42" fill="#adff30"/>
<circle cx="245.5" cy="285.8" r="2.42" fill="#adff30"/>
<circle cx="272.9" cy="290.2" r="2.42" fill="#adff30"/>
<circle cx="342.9" cy="279.5" r="2.42" fill="#adff30"/>
<circle cx="385.5" cy="393.0" r="2.42" fill="#adff30"/>
<circle cx="382.5" cy="206.8" r="2.42" fill="#adff30"/>
<circle cx="461.5" cy="241.2" r="2.42" fill="#adff30"/>
<circle cx="408.8" cy="337.2" r="2.42" fill="#adff30"/>
<circle cx="291.5" cy="87.5" r="2.42" fill="#dfff1c"/>
<circle cx="308.8" cy="134.8" r="2.42" fill="#dfff1c"/>
<circle cx="327.4" cy="188.0" r="2.42" fill="#dfff1c"/>
<circle cx="299.5" cy="275.5" r="2.42" fill="#dfff1c"/>
<circle cx="343.2" cy="297.8" r="2.42" fill="#dfff1c"/>
<circle cx="314.2" cy="321.1" r="2.42" fill="#dfff1c"/>
<circle cx="200.2" cy="302.5" r="2.42" fill="#dfff1c"/>
<circle cx="273.8" cy="418.5" r="2.42" fill="#dfff1c"/>
<circle cx="215.5" cy="137.0" r="2.42" fill="#fff500"/>
<circle cx="227.8" cy="129.5" r="2.42" fill="#fff500"/>
<circle cx="261.5" cy="65.5" r="2.42" fill="#fff500"/>
<circle cx="264.5" cy="95.0" r="2.42" fill="#fff500"/>
<circle cx="235.2" cy="101.8" r="2.42" fill="#fff500"/>
<circle cx="246.2" cy="172.0" r="2.42" fill="#fff500"/>
<circle cx="332.0" cy="131.5" r="2.42" fill="#fff500"/>
<circle cx="280.0" cy="150.5" r="2.42" fill="#fff500"/>
<circle cx="301.5" cy="174.8" r="2.42" fill="#fff500"/>
<circle cx="192.0" cy="196.8" r="2.42" fill="#fff500"/>
<circle cx="196.5" cy="265.5" r="2.42" fill="#fff500"/>
<circle cx="231.1" cy="197.1" r="2.42" fill="#fff500"/>
<circle cx="258.9" cy="204.2" r="2.42" fill="#fff500"/>
<circle cx="237.6" cy="207.4" r="2.42" fill="#fff500"/>
<circle cx="276.8" cy="210.5" r="2.42" fill="#fff500"/>
<circle cx="267.0" cy="214.2" r="2.42" fill="#fff500"/>
<circle cx="258.2" cy="225.5" r="2.42" fill="#fff500"/>
<circle cx="272.0" cy="223.0" r="2.42" fill="#fff500"/>
<circle cx="345.1" cy="199.5" r="2.42" fill="#fff500"/>
<circle cx="352.2" cy="198.0" r="2.42" fill="#fff500"/>
<circle cx="322.6" cy="205.5" r="2.42" fill="#fff500"/>
<circle cx="307.6" cy="212.4" r="2.42" fill="#fff500"/>
<circle cx="318.9" cy="219.2" r="2.42" fill="#fff500"/>
<circle cx="355.5" cy="228.9" r="2.42" fill="#fff500"/>
<circle cx="318.2" cy="231.8" r="2.42" fill="#fff500"/>
<circle cx="278.2" cy="264.9" r="2.42" fill="#fff500"/>
<circle cx="252.6" cy="274.2" r="2.42" fill="#fff500"/>
<circle cx="272.0" cy="275.9" r="2.42" fill="#fff500"/>
<circle cx="341.0" cy="255.2" r="2.42" fill="#fff500"/>
<circle cx="305.8" cy="258.6" r="2.42" fill="#fff500"/>
<circle cx="332.4" cy="264.6" r="2.42" fill="#fff500"/>
<circle cx="330.4" cy="282.4" r="2.42" fill="#fff500"/>
<circle cx="307.9" cy="293.6" r="2.42" fill="#fff500"/>
<circle cx="268.0" cy="335.1" r="2.42" fill="#fff500"/>
<circle cx="322.0" cy="303.0" r="2.42" fill="#fff500"/>
<circle cx="354.8" cy="314.2" r="2.42" fill="#fff500"/>
<circle cx="350.1" cy="324.0" r="2.42" fill="#fff500"/>
<circle cx="339.5" cy="333.4" r="2.42" fill="#fff500"/>
<circle cx="199.0" cy="333.0" r="2.42" fill="#fff500"/>
<circle cx="379.2" cy="222.2" r="2.42" fill="#fff500"/>
<circle cx="459.2" cy="281.2" r="2.42" fill="#fff500"/>
<circle cx="209.0" cy="161.2" r="2.42" fill="#ffcb06"/>
<circle cx="224.5" cy="128.5" r="2.42" fill="#ffcb06"/>
<circle cx="257.0" cy="93.0" r="2.42" fill="#ffcb06"/>
<circle cx="372.5" cy="127.5" r="2.42" fill="#ffcb06"/>
<circle cx="336.2" cy="163.8" r="2.42" fill="#ffcb06"/>
<circle cx="262.0" cy="183.6" r="2.42" fill="#ffcb06"/>
<circle cx="262.0" cy="185.5" r="2.42" fill="#ffcb06"/>
<circle cx="279.9" cy="196.1" r="2.42" fill="#ffcb06"/>
<circle cx="222.5" cy="202.0" r="2.42" fill="#ffcb06"/>
<circle cx="230.8" cy="219.0" r="2.42" fill="#ffcb06"/>
<circle cx="260.8" cy="220.5" r="2.42" fill="#ffcb06"/>
<circle cx="255.1" cy="225.5" r="2.42" fill="#ffcb06"/>
<circle cx="260.1" cy="229.9" r="2.42" fill="#ffcb06"/>
<circle cx="273.2" cy="230.5" r="2.42" fill="#ffcb06"/>
<circle cx="354.2" cy="202.1" r="2.42" fill="#ffcb06"/>
<circle cx="298.2" cy="204.2" r="2.42" fill="#ffcb06"/>
<circle cx="299.8" cy="214.6" r="2.42" fill="#ffcb06"/>
<circle cx="359.9" cy="228.2" r="2.42" fill="#ffcb06"/>
<circle cx="321.4" cy="234.0" r="2.42" fill="#ffcb06"/>
<circle cx="228.5" cy="242.8" r="2.42" fill="#ffcb06"/>
<circle cx="261.4" cy="247.4" r="2.42" fill="#ffcb06"/>
<circle cx="234.9" cy="259.9" r="2.42" fill="#ffcb06"/>
<circle cx="261.0" cy="271.1" r="2.42" fill="#ffcb06"/>
<circle cx="255.4" cy="280.9" r="2.42" fill="#ffcb06"/>
<circle cx="251.0" cy="286.8" r="2.42" fill="#ffcb06"/>
<circle cx="281.4" cy="285.2" r="2.42" fill="#ffcb06"/>
<circle cx="261.6" cy="290.5" r="2.42" fill="#ffcb06"/>
<circle cx="228.6" cy="297.0" r="2.42" fill="#ffcb06"/>
<circle cx="330.8" cy="246.1" r="2.42" fill="#ffcb06"/>
<circle cx="323.2" cy="254.2" r="2.42" fill="#ffcb06"/>
<circle cx="329.2" cy="264.6" r="2.42" fill="#ffcb06"/>
<circle cx="233.2" cy="306.1" r="2.42" fill="#ffcb06"/>
<circle cx="238.9" cy="330.1" r="2.42" fill="#ffcb06"/>
<circle cx="303.2" cy="350.5" r="2.42" fill="#ffcb06"/>
<circle cx="208.8" cy="352.2" r="2.42" fill="#ffcb06"/>
<circle cx="238.5" cy="414.8" r="2.42" fill="#ffcb06"/>
<circle cx="384.8" cy="362.2" r="2.42" fill="#ffcb06"/>
<circle cx="412.8" cy="376.8" r="2.42" fill="#ffcb06"/>
<circle cx="318.8" cy="380.5" r="2.42" fill="#ffcb06"/>
<circle cx="335.0" cy="393.8" r="2.42" fill="#ffcb06"/>
<circle cx="168.5" cy="164.0" r="2.42" fill="#ff990a"/>
<circle cx="149.8" cy="254.8" r="2.42" fill="#ff990a"/>
<circle cx="146.2" cy="284.8" r="2.42" fill="#ff990a"/>
<circle cx="267.0" cy="218.6" r="2.42" fill="#ff990a"/>
<circle cx="277.0" cy="216.1" r="2.42" fill="#ff990a"/>
<circle cx="335.8" cy="204.2" r="2.42" fill="#ff990a"/>
<circle cx="295.1" cy="294.9" r="2.42" fill="#ff990a"/>
<circle cx="320.1" cy="255.2" r="2.42" fill="#ff990a"/>
<circle cx="327.4" cy="273.2" r="2.42" fill="#ff990a"/>
<circle cx="272.0" cy="303.0" r="2.42" fill="#ff990a"/>
<circle cx="252.6" cy="325.2" r="2.42" fill="#ff990a"/>
<circle cx="321.4" cy="310.5" r="2.42" fill="#ff990a"/>
<circle cx="376.0" cy="307.8" r="2.42" fill="#ff990a"/>
<circle cx="432.2" cy="180.5" r="2.42" fill="#ff990a"/>
<circle cx="190.8" cy="175.2" r="2.42" fill="#ff6004"/>
<circle cx="282.5" cy="120.0" r="2.42" fill="#ff6004"/>
<circle cx="281.2" cy="145.0" r="2.42" fill="#ff6004"/>
<circle cx="175.2" cy="265.8" r="2.42" fill="#ff6004"/>
<circle cx="248.0" cy="187.4" r="2.42" fill="#ff6004"/>
<circle cx="295.8" cy="187.4" r="2.42" fill="#ff6004"/>
<circle cx="257.0" cy="219.9" r="2.42" fill="#ff6004"/>
<circle cx="220.1" cy="225.2" r="2.42" fill="#ff6004"/>
<circle cx="267.0" cy="236.8" r="2.42" fill="#ff6004"/>
<circle cx="298.0" cy="187.4" r="2.42" fill="#ff6004"/>
<circle cx="320.1" cy="188.0" r="2.42" fill="#ff6004"/>
<circle cx="310.8" cy="218.2" r="2.42" fill="#ff6004"/>
<circle cx="332.6" cy="224.9" r="2.42" fill="#ff6004"/>
<circle cx="267.0" cy="239.2" r="2.42" fill="#ff6004"/>
<circle cx="227.6" cy="255.5" r="2.42" fill="#ff6004"/>
<circle cx="250.1" cy="275.2" r="2.42" fill="#ff6004"/>
<circle cx="272.9" cy="270.2" r="2.42" fill="#ff6004"/>
<circle cx="290.8" cy="267.4" r="2.42" fill="#ff6004"/>
<circle cx="267.0" cy="294.6" r="2.42" fill="#ff6004"/>
<circle cx="358.2" cy="244.9" r="2.42" fill="#ff6004"/>
<circle cx="306.4" cy="263.0" r="2.42" fill="#ff6004"/>
<circle cx="299.5" cy="264.9" r="2.42" fill="#ff6004"/>
<circle cx="316.0" cy="316.4" r="2.42" fill="#ff6004"/>
<circle cx="312.0" cy="348.2" r="2.42" fill="#ff6004"/>
<circle cx="184.5" cy="426.2" r="2.42" fill="#ff6004"/>
<circle cx="255.5" cy="420.0" r="2.42" fill="#ff6004"/>
<circle cx="290.8" cy="117.0" r="2.42" fill="#ff2100"/>
<circle cx="346.5" cy="169.8" r="2.42" fill="#ff2100"/>
<circle cx="279.9" cy="199.9" r="2.42" fill="#ff2100"/>
<circle cx="237.0" cy="219.2" r="2.42" fill="#ff2100"/>
<circle cx="273.9" cy="235.8" r="2.42" fill="#ff2100"/>
<circle cx="300.8" cy="197.8" r="2.42" fill="#ff2100"/>
<circle cx="318.9" cy="205.8" r="2.42" fill="#ff2100"/>
<circle cx="310.1" cy="219.2" r="2.42" fill="#ff2100"/>
<circle cx="304.5" cy="226.1" r="2.42" fill="#ff2100"/>
<circle cx="270.8" cy="243.6" r="2.42" fill="#ff2100"/>
<circle cx="262.4" cy="254.9" r="2.42" fill="#ff2100"/>
<circle cx="286.4" cy="273.6" r="2.42" fill="#ff2100"/>
<circle cx="293.2" cy="268.6" r="2.42" fill="#ff2100"/>
<circle cx="313.9" cy="249.9" r="2.42" fill="#ff2100"/>
<circle cx="308.9" cy="259.2" r="2.42" fill="#ff2100"/>
<circle cx="302.0" cy="269.9" r="2.42" fill="#ff2100"/>
<circle cx="310.8" cy="273.6" r="2.42" fill="#ff2100"/>
<circle cx="272.4" cy="316.4" r="2.42" fill="#ff2100"/>
<circle cx="383.8" cy="291.5" r="2.42" fill="#ff2100"/>
<circle cx="235.1" cy="211.4" r="2.42" fill="#ff0047"/>
<circle cx="323.9" cy="217.4" r="2.42" fill="#ff0047"/>
<circle cx="299.5" cy="233.0" r="2.42" fill="#ff0047"/>
<circle cx="305.1" cy="232.4" r="2.42" fill="#ff0047"/>
<circle cx="252.0" cy="256.5" r="2.42" fill="#ff0047"/>
<circle cx="269.5" cy="258.0" r="2.42" fill="#ff0047"/>
<circle cx="273.2" cy="261.1" r="2.42" fill="#ff0047"/>
<circle cx="310.1" cy="248.6" r="2.42" fill="#ff0047"/>
<circle cx="333.2" cy="259.0" r="2.42" fill="#ff0047"/>
<circle cx="318.2" cy="261.1" r="2.42" fill="#ff0047"/>
<circle cx="343.0" cy="265.8" r="2.42" fill="#ff0047"/>
<circle cx="241.8" cy="191.1" r="2.42" fill="#ff00e6"/>
<circle cx="285.1" cy="197.4" r="2.42" fill="#ff00e6"/>
<circle cx="285.1" cy="204.5" r="2.42" fill="#ff00e6"/>
<circle cx="270.8" cy="218.6" r="2.42" fill="#ff00e6"/>
<circle cx="285.5" cy="216.8" r="2.42" fill="#ff00e6"/>
<circle cx="268.2" cy="226.1" r="2.42" fill="#ff00e6"/>
<circle cx="257.0" cy="235.8" r="2.42" fill="#ff00e6"/>
<circle cx="321.4" cy="221.1" r="2.42" fill="#ff00e6"/>
<circle cx="317.6" cy="227.1" r="2.42" fill="#ff00e6"/>
<circle cx="309.5" cy="228.6" r="2.42" fill="#ff00e6"/>
<circle cx="257.0" cy="238.4" r="2.42" fill="#ff00e6"/>
<circle cx="269.2" cy="262.4" r="2.42" fill="#ff00e6"/>
<circle cx="272.0" cy="263.0" r="2.42" fill="#ff00e6"/>
<circle cx="277.0" cy="279.2" r="2.42" fill="#ff00e6"/>
<circle cx="333.0" cy="250.1" r="2.42" fill="#ff00e6"/>
<circle cx="327.6" cy="257.4" r="2.42" fill="#ff00e6"/>
<circle cx="299.5" cy="283.0" r="2.42" fill="#ff00e6"/>
<circle cx="303.2" cy="285.2" r="2.42" fill="#ff00e6"/>
<circle cx="310.1" cy="288.0" r="2.42" fill="#ff00e6"/>
<circle cx="177.8" cy="320.5" r="2.42" fill="#ff00e6"/>
<circle cx="373.2" cy="363.0" r="2.42" fill="#ff00e6"/>
<circle cx="256.0" cy="174.2" r="2.42" fill="#c81cff"/>
<circle cx="322.5" cy="113.5" r="2.42" fill="#c81cff"/>
<circle cx="281.0" cy="132.5" r="2.42" fill="#c81cff"/>
<circle cx="293.2" cy="181.1" r="2.42" fill="#c81cff"/>
<circle cx="273.9" cy="214.2" r="2.42" fill="#c81cff"/>
<circle cx="318.9" cy="210.5" r="2.42" fill="#c81cff"/>
<circle cx="323.6" cy="226.1" r="2.42" fill="#c81cff"/>
<circle cx="313.9" cy="234.9" r="2.42" fill="#c81cff"/>
<circle cx="307.6" cy="236.8" r="2.42" fill="#c81cff"/>
<circle cx="260.1" cy="244.2" r="2.42" fill="#c81cff"/>
<circle cx="273.9" cy="254.2" r="2.42" fill="#c81cff"/>
<circle cx="277.0" cy="259.2" r="2.42" fill="#c81cff"/>
<circle cx="279.5" cy="274.9" r="2.42" fill="#c81cff"/>
<circle cx="290.1" cy="284.9" r="2.42" fill="#c81cff"/>
<circle cx="295.8" cy="291.8" r="2.42" fill="#c81cff"/>
<circle cx="327.0" cy="246.8" r="2.42" fill="#c81cff"/>
<circle cx="311.4" cy="240.5" r="2.42" fill="#c81cff"/>
<circle cx="318.9" cy="239.9" r="2.42" fill="#c81cff"/>
<circle cx="317.6" cy="243.0" r="2.42" fill="#c81cff"/>
<circle cx="323.9" cy="257.8" r="2.42" fill="#c81cff"/>
<circle cx="314.5" cy="265.2" r="2.42" fill="#c81cff"/>
<circle cx="303.0" cy="267.1" r="2.42" fill="#c81cff"/>
<circle cx="302.6" cy="282.4" r="2.42" fill="#c81cff"/>
<circle cx="301.4" cy="291.1" r="2.42" fill="#c81cff"/>
<circle cx="297.6" cy="291.8" r="2.42" fill="#c81cff"/>
<circle cx="216.8" cy="399.5" r="2.42" fill="#c81cff"/>
<circle cx="383.5" cy="266.0" r="2.42" fill="#c81cff"/>
<circle cx="280.1" cy="228.6" r="2.42" fill="#9f33fe"/>
<circle cx="275.8" cy="263.0" r="2.42" fill="#9f33fe"/>
<circle cx="308.9" cy="253.0" r="2.42" fill="#9f33fe"/>
<circle cx="352.5" cy="118.8" r="2.42" fill="#d468f3"/>
<circle cx="439.5" cy="176.0" r="2.42" fill="#d468f3"/>
<circle cx="300.1" cy="223.0" r="2.42" fill="#d468f3"/>
<circle cx="298.2" cy="234.9" r="2.42" fill="#d468f3"/>
<circle cx="259.2" cy="261.8" r="2.42" fill="#d468f3"/>
<circle cx="263.9" cy="262.1" r="2.42" fill="#d468f3"/>
<circle cx="280.8" cy="264.2" r="2.42" fill="#d468f3"/>
<circle cx="307.0" cy="243.6" r="2.42" fill="#d468f3"/>
<circle cx="296.0" cy="226.3" r="2.42" fill="#da6ef2"/>
<circle cx="299.4" cy="228.5" r="2.42" fill="#da6ef2"/>
<circle cx="295.6" cy="228.1" r="2.42" fill="#da6ef2"/>
<circle cx="300.5" cy="256.0" r="2.42" fill="#e074f1"/>
<circle cx="273.8" cy="250.9" r="2.42" fill="#e074f1"/>
<circle cx="296.9" cy="259.6" r="2.42" fill="#e074f1"/>
<circle cx="278.3" cy="232.3" r="2.42" fill="#e67aef"/>
<circle cx="276.0" cy="254.5" r="2.42" fill="#e67aef"/>
<circle cx="271.7" cy="247.3" r="2.42" fill="#e67aef"/>
<circle cx="273.7" cy="239.5" r="2.42" fill="#e67aef"/>
<circle cx="278.7" cy="228.2" r="2.42" fill="#eb80ee"/>
<circle cx="277.7" cy="233.5" r="2.42" fill="#eb80ee"/>
<circle cx="293.0" cy="264.3" r="2.42" fill="#eb80ee"/>
<circle cx="273.9" cy="250.5" r="2.42" fill="#eb80ee"/>
<circle cx="294.2" cy="259.2" r="2.42" fill="#eb80ee"/>
<circle cx="275.3" cy="253.2" r="2.42" fill="#eb80ee"/>
<circle cx="294.5" cy="226.8" r="2.42" fill="#eb80ee"/>
<circle cx="292.0" cy="224.9" r="2.42" fill="#ec84ef"/>
<circle cx="274.6" cy="233.4" r="2.42" fill="#ec84ef"/>
<circle cx="278.9" cy="229.1" r="2.42" fill="#ed89ef"/>
<circle cx="277.2" cy="231.2" r="2.42" fill="#ed89ef"/>
<circle cx="272.0" cy="239.3" r="2.42" fill="#ed89ef"/>
<circle cx="273.7" cy="239.2" r="2.42" fill="#ed89ef"/>
<circle cx="281.1" cy="233.5" r="2.42" fill="#ed89ef"/>
<circle cx="296.0" cy="235.3" r="2.42" fill="#ed89ef"/>
<circle cx="294.5" cy="233.3" r="2.42" fill="#ed89ef"/>
<circle cx="290.8" cy="231.0" r="2.42" fill="#ee8df0"/>
<circle cx="274.9" cy="247.6" r="2.42" fill="#ee8df0"/>
<circle cx="286.8" cy="226.2" r="2.42" fill="#ee8df0"/>
<circle cx="281.7" cy="232.4" r="2.42" fill="#ee92f1"/>
<circle cx="281.0" cy="255.8" r="2.42" fill="#ee92f1"/>
<circle cx="270.6" cy="244.0" r="2.42" fill="#ee92f1"/>
<circle cx="282.1" cy="237.1" r="2.42" fill="#ee92f1"/>
<circle cx="307.8" cy="246.6" r="2.42" fill="#ee92f1"/>
<circle cx="303.1" cy="236.1" r="2.42" fill="#ee92f1"/>
<circle cx="290.1" cy="229.9" r="2.42" fill="#ee92f1"/>
<circle cx="283.7" cy="251.7" r="2.42" fill="#ee92f1"/>
<circle cx="301.6" cy="242.3" r="2.42" fill="#ee92f1"/>
<circle cx="303.6" cy="243.1" r="2.42" fill="#ee92f1"/>
<circle cx="304.6" cy="240.2" r="2.42" fill="#ef97f1"/>
<circle cx="282.0" cy="251.0" r="2.42" fill="#ef97f1"/>
<circle cx="281.3" cy="238.0" r="2.42" fill="#ef97f1"/>
<circle cx="298.9" cy="240.7" r="2.42" fill="#ef97f1"/>
<circle cx="302.8" cy="237.6" r="2.42" fill="#ef97f1"/>
<circle cx="276.3" cy="253.6" r="2.42" fill="#ef97f1"/>
<circle cx="321.2" cy="68.5" r="2.42" fill="#ef97f1"/>
<circle cx="310.0" cy="150.8" r="2.42" fill="#ef97f1"/>
<circle cx="291.2" cy="176.8" r="2.42" fill="#ef97f1"/>
<circle cx="289.5" cy="214.2" r="2.42" fill="#ef97f1"/>
<circle cx="294.5" cy="214.9" r="2.42" fill="#ef97f1"/>
<circle cx="275.1" cy="226.8" r="2.42" fill="#ef97f1"/>
<circle cx="243.9" cy="237.8" r="2.42" fill="#ef97f1"/>
<circle cx="295.8" cy="221.8" r="2.42" fill="#ef97f1"/>
<circle cx="298.0" cy="218.6" r="2.42" fill="#ef97f1"/>
<circle cx="308.9" cy="232.4" r="2.42" fill="#ef97f1"/>
<circle cx="303.9" cy="236.1" r="2.42" fill="#ef97f1"/>
<circle cx="243.9" cy="239.0" r="2.42" fill="#ef97f1"/>
<circle cx="260.8" cy="251.8" r="2.42" fill="#ef97f1"/>
<circle cx="243.9" cy="261.8" r="2.42" fill="#ef97f1"/>
<circle cx="267.0" cy="251.8" r="2.42" fill="#ef97f1"/>
<circle cx="285.1" cy="268.0" r="2.42" fill="#ef97f1"/>
<circle cx="266.6" cy="270.5" r="2.42" fill="#ef97f1"/>
<circle cx="272.6" cy="240.5" r="2.42" fill="#ef97f1"/>
<circle cx="279.5" cy="255.5" r="2.42" fill="#ef97f1"/>
<circle cx="285.8" cy="261.8" r="2.42" fill="#ef97f1"/>
<circle cx="314.1" cy="256.1" r="2.42" fill="#ef97f1"/>
<circle cx="300.8" cy="251.8" r="2.42" fill="#ef97f1"/>
<circle cx="298.9" cy="271.8" r="2.42" fill="#ef97f1"/>
<circle cx="321.0" cy="273.6" r="2.42" fill="#ef97f1"/>
<circle cx="295.8" cy="321.1" r="2.42" fill="#ef97f1"/>
<circle cx="297.6" cy="321.1" r="2.42" fill="#ef97f1"/>
<circle cx="290.8" cy="231.0" r="2.42" fill="#ef97f1"/>
<circle cx="299.2" cy="237.4" r="2.42" fill="#ef97f1"/>
<circle cx="294.4" cy="230.5" r="2.42" fill="#ef97f1"/>
<circle cx="279.7" cy="259.3" r="2.42" fill="#ef97f1"/>
<circle cx="279.0" cy="228.7" r="2.42" fill="#f09bf2"/>
<circle cx="278.8" cy="254.2" r="2.42" fill="#f09bf2"/>
<circle cx="284.9" cy="261.5" r="2.42" fill="#f09bf2"/>
<circle cx="273.3" cy="244.5" r="2.42" fill="#f09bf2"/>
<circle cx="292.6" cy="256.4" r="2.42" fill="#f09bf2"/>
<circle cx="285.1" cy="228.8" r="2.42" fill="#f09bf2"/>
<circle cx="304.6" cy="249.6" r="2.42" fill="#f09bf2"/>
<circle cx="301.6" cy="238.2" r="2.42" fill="#f0a0f2"/>
<circle cx="294.5" cy="228.4" r="2.42" fill="#f0a0f2"/>
<circle cx="303.2" cy="237.8" r="2.42" fill="#f0a0f2"/>
<circle cx="290.9" cy="230.1" r="2.42" fill="#f0a0f2"/>
<circle cx="280.9" cy="240.2" r="2.42" fill="#f0a0f2"/>
<circle cx="284.9" cy="234.7" r="2.42" fill="#f0a0f2"/>
<circle cx="283.1" cy="225.2" r="2.42" fill="#f0a0f2"/>
<circle cx="296.4" cy="232.8" r="2.42" fill="#f0a0f2"/>
<circle cx="279.4" cy="235.1" r="2.42" fill="#f0a0f2"/>
<circle cx="281.1" cy="248.0" r="2.42" fill="#f1a5f3"/>
<circle cx="278.3" cy="254.2" r="2.42" fill="#f1a5f3"/>
<circle cx="285.9" cy="231.2" r="2.42" fill="#f1a5f3"/>
<circle cx="299.5" cy="244.8" r="2.42" fill="#f1a5f3"/>
<circle cx="297.9" cy="249.2" r="2.42" fill="#f1a5f3"/>
<circle cx="298.8" cy="247.2" r="2.42" fill="#f1a5f3"/>
<circle cx="279.9" cy="250.6" r="2.42" fill="#f1a5f3"/>
<circle cx="300.5" cy="248.1" r="2.42" fill="#f1a5f3"/>
<circle cx="296.9" cy="230.7" r="2.42" fill="#f1a5f3"/>
<circle cx="281.5" cy="234.3" r="2.42" fill="#f1a5f3"/>
<circle cx="280.3" cy="253.3" r="2.42" fill="#f1a5f3"/>
<circle cx="293.0" cy="254.1" r="2.42" fill="#f1a5f3"/>
<circle cx="301.7" cy="231.6" r="2.42" fill="#f2a9f4"/>
<circle cx="297.4" cy="248.9" r="2.42" fill="#f2a9f4"/>
<circle cx="280.1" cy="243.1" r="2.42" fill="#f2a9f4"/>
<circle cx="279.2" cy="257.1" r="2.42" fill="#f2a9f4"/>
<circle cx="293.8" cy="225.9" r="2.42" fill="#f2a9f4"/>
<circle cx="290.4" cy="254.5" r="2.42" fill="#f3aef4"/>
<circle cx="278.6" cy="247.1" r="2.42" fill="#f3aef4"/>
<circle cx="299.9" cy="233.7" r="2.42" fill="#f3aef4"/>
<circle cx="290.4" cy="236.8" r="2.42" fill="#f3aef4"/>
<circle cx="300.3" cy="251.9" r="2.42" fill="#f3aef4"/>
<circle cx="285.5" cy="260.8" r="2.42" fill="#f3aef4"/>
<circle cx="283.0" cy="237.8" r="2.42" fill="#f3aef4"/>
<circle cx="303.3" cy="235.5" r="2.42" fill="#f3aef4"/>
<circle cx="285.9" cy="255.5" r="2.42" fill="#f3aef4"/>
<circle cx="296.6" cy="239.3" r="2.42" fill="#f3aef4"/>
<circle cx="295.3" cy="242.6" r="2.42" fill="#f3aef4"/>
<circle cx="299.5" cy="246.6" r="2.42" fill="#f3aef4"/>
<circle cx="292.9" cy="236.4" r="2.42" fill="#f3aef4"/>
<circle cx="286.3" cy="246.9" r="2.42" fill="#f3aef4"/>
<circle cx="279.7" cy="238.5" r="2.42" fill="#f3b3f5"/>
<circle cx="285.7" cy="239.1" r="2.42" fill="#f3b3f5"/>
<circle cx="283.5" cy="252.4" r="2.42" fill="#f3b3f5"/>
<circle cx="274.9" cy="251.3" r="2.42" fill="#f3b3f5"/>
<circle cx="296.0" cy="247.0" r="2.42" fill="#f3b3f5"/>
<circle cx="289.9" cy="241.4" r="2.42" fill="#f3b3f5"/>
<circle cx="286.7" cy="242.7" r="2.42" fill="#f3b3f5"/>
<circle cx="275.0" cy="249.6" r="2.42" fill="#f3b3f5"/>
<circle cx="284.3" cy="244.9" r="2.42" fill="#f3b3f5"/>
<circle cx="303.7" cy="254.7" r="2.42" fill="#f3b3f5"/>
<circle cx="302.5" cy="253.8" r="2.42" fill="#f3b3f5"/>
<circle cx="291.8" cy="258.5" r="2.42" fill="#f3b3f5"/>
<circle cx="271.5" cy="242.1" r="2.42" fill="#f3b3f5"/>
<circle cx="288.9" cy="240.7" r="2.42" fill="#f3b3f5"/>
<circle cx="281.9" cy="242.7" r="2.42" fill="#f3b3f5"/>
<circle cx="298.2" cy="239.2" r="2.42" fill="#f4b7f5"/>
<circle cx="279.9" cy="234.5" r="2.42" fill="#f4b7f5"/>
<circle cx="290.5" cy="241.5" r="2.42" fill="#f4b7f5"/>
<circle cx="292.6" cy="239.2" r="2.42" fill="#f4b7f5"/>
<circle cx="301.0" cy="239.4" r="2.42" fill="#f4b7f5"/>
<circle cx="283.8" cy="245.2" r="2.42" fill="#f4b7f5"/>
<circle cx="295.2" cy="232.9" r="2.42" fill="#f4b7f5"/>
<circle cx="276.6" cy="255.6" r="2.42" fill="#f4b7f5"/>
<circle cx="292.4" cy="239.2" r="2.42" fill="#f4b7f5"/>
<circle cx="289.8" cy="240.1" r="2.42" fill="#f4b7f5"/>
<circle cx="292.1" cy="240.2" r="2.42" fill="#f4b7f5"/>
<circle cx="293.8" cy="253.1" r="2.42" fill="#f4b7f5"/>
<circle cx="290.7" cy="260.8" r="2.42" fill="#f4b7f5"/>
<circle cx="286.0" cy="263.4" r="2.42" fill="#f4b7f5"/>
<circle cx="280.1" cy="255.8" r="2.42" fill="#f5bcf6"/>
<circle cx="288.2" cy="236.3" r="2.42" fill="#f5bcf6"/>
<circle cx="294.7" cy="239.2" r="2.42" fill="#f5bcf6"/>
<circle cx="277.9" cy="240.9" r="2.42" fill="#f5bcf6"/>
<circle cx="305.6" cy="240.4" r="2.42" fill="#f5bcf6"/>
<circle cx="292.4" cy="255.7" r="2.42" fill="#f5bcf6"/>
<circle cx="280.4" cy="259.8" r="2.42" fill="#f5bcf6"/>
<circle cx="290.8" cy="241.0" r="2.42" fill="#f5bcf6"/>
<circle cx="285.5" cy="251.5" r="2.42" fill="#f5c0f7"/>
<circle cx="296.0" cy="245.3" r="2.42" fill="#f5c0f7"/>
<circle cx="287.1" cy="251.5" r="2.42" fill="#f5c0f7"/>
<circle cx="292.7" cy="258.1" r="2.42" fill="#f5c0f7"/>
<circle cx="293.0" cy="235.8" r="2.42" fill="#f5c0f7"/>
<circle cx="282.8" cy="230.8" r="2.42" fill="#f5c0f7"/>
<circle cx="276.0" cy="252.7" r="2.42" fill="#f5c0f7"/>
<circle cx="291.8" cy="250.2" r="2.42" fill="#f5c0f7"/>
<circle cx="301.1" cy="237.9" r="2.42" fill="#f5c0f7"/>
<circle cx="287.3" cy="233.9" r="2.42" fill="#f5c0f7"/>
<circle cx="281.1" cy="244.6" r="2.42" fill="#f5c0f7"/>
<circle cx="294.7" cy="240.2" r="2.42" fill="#f5c0f7"/>
<circle cx="286.2" cy="237.1" r="2.42" fill="#f5c0f7"/>
<circle cx="271.8" cy="245.9" r="2.42" fill="#f5c0f7"/>
<circle cx="280.9" cy="235.9" r="2.42" fill="#f5c0f7"/>
<circle cx="298.2" cy="234.5" r="2.42" fill="#f5c0f7"/>
<circle cx="294.3" cy="251.1" r="2.42" fill="#f6c5f7"/>
<circle cx="285.9" cy="239.9" r="2.42" fill="#f6c5f7"/>
<circle cx="288.3" cy="247.2" r="2.42" fill="#f6c5f7"/>
<circle cx="285.6" cy="251.8" r="2.42" fill="#f6c5f7"/>
<circle cx="284.4" cy="242.1" r="2.42" fill="#f6c5f7"/>
<circle cx="291.8" cy="253.1" r="2.42" fill="#f6c5f7"/>
<circle cx="311.0" cy="124.2" r="2.42" fill="#f6c5f7"/>
<circle cx="291.4" cy="179.2" r="2.42" fill="#f6c5f7"/>
<circle cx="247.9" cy="191.8" r="2.42" fill="#f6c5f7"/>
<circle cx="290.1" cy="216.8" r="2.42" fill="#f6c5f7"/>
<circle cx="245.5" cy="233.0" r="2.42" fill="#f6c5f7"/>
<circle cx="261.4" cy="234.9" r="2.42" fill="#f6c5f7"/>
<circle cx="270.1" cy="233.0" r="2.42" fill="#f6c5f7"/>
<circle cx="282.0" cy="228.0" r="2.42" fill="#f6c5f7"/>
<circle cx="289.5" cy="236.8" r="2.42" fill="#f6c5f7"/>
<circle cx="292.0" cy="220.5" r="2.42" fill="#f6c5f7"/>
<circle cx="279.5" cy="234.2" r="2.42" fill="#f6c5f7"/>
<circle cx="332.4" cy="189.2" r="2.42" fill="#f6c5f7"/>
<circle cx="301.4" cy="227.4" r="2.42" fill="#f6c5f7"/>
<circle cx="347.6" cy="237.8" r="2.42" fill="#f6c5f7"/>
<circle cx="268.2" cy="254.2" r="2.42" fill="#f6c5f7"/>
<circle cx="285.4" cy="278.0" r="2.42" fill="#f6c5f7"/>
<circle cx="275.8" cy="241.8" r="2.42" fill="#f6c5f7"/>
<circle cx="283.2" cy="258.0" r="2.42" fill="#f6c5f7"/>
<circle cx="304.5" cy="254.9" r="2.42" fill="#f6c5f7"/>
<circle cx="302.6" cy="250.5" r="2.42" fill="#f6c5f7"/>
<circle cx="304.5" cy="246.8" r="2.42" fill="#f6c5f7"/>
<circle cx="281.8" cy="340.5" r="2.42" fill="#f6c5f7"/>
<circle cx="340.1" cy="309.5" r="2.42" fill="#f6c5f7"/>
<circle cx="281.4" cy="251.6" r="2.42" fill="#f6c5f7"/>
<circle cx="296.4" cy="240.8" r="2.42" fill="#f6c5f7"/>
<circle cx="293.0" cy="247.3" r="2.42" fill="#f6c5f7"/>
<circle cx="294.1" cy="254.1" r="2.42" fill="#f6c5f7"/>
<circle cx="281.6" cy="241.5" r="2.42" fill="#f6c5f7"/>
<circle cx="282.7" cy="244.7" r="2.42" fill="#f7caf8"/>
<circle cx="299.8" cy="244.7" r="2.42" fill="#f7caf8"/>
<circle cx="289.9" cy="255.9" r="2.42" fill="#f7caf8"/>
<circle cx="288.6" cy="241.8" r="2.42" fill="#f7caf8"/>
<circle cx="296.6" cy="248.3" r="2.42" fill="#f7caf8"/>
<circle cx="289.5" cy="249.4" r="2.42" fill="#f7caf8"/>
<circle cx="282.5" cy="245.3" r="2.42" fill="#f7caf8"/>
<circle cx="293.5" cy="249.0" r="2.42" fill="#f7caf8"/>
<circle cx="288.7" cy="246.0" r="2.42" fill="#f7caf8"/>
<circle cx="281.0" cy="236.8" r="2.42" fill="#f7caf8"/>
<circle cx="296.0" cy="231.7" r="2.42" fill="#f8cef9"/>
<circle cx="276.5" cy="244.7" r="2.42" fill="#f8cef9"/>
<circle cx="298.5" cy="236.1" r="2.42" fill="#f8cef9"/>
<circle cx="289.8" cy="255.0" r="2.42" fill="#f8cef9"/>
<circle cx="292.4" cy="240.7" r="2.42" fill="#f8cef9"/>
<circle cx="282.1" cy="252.5" r="2.42" fill="#f8d3f9"/>
<circle cx="290.7" cy="239.9" r="2.42" fill="#f8d3f9"/>
<circle cx="280.2" cy="243.2" r="2.42" fill="#f8d3f9"/>
<circle cx="298.4" cy="232.2" r="2.42" fill="#f8d3f9"/>
<circle cx="287.3" cy="240.4" r="2.42" fill="#f8d3f9"/>
<circle cx="286.6" cy="243.2" r="2.42" fill="#f8d3f9"/>
<circle cx="294.9" cy="238.7" r="2.42" fill="#f8d3f9"/>
<circle cx="290.8" cy="255.4" r="2.42" fill="#f8d3f9"/>
<circle cx="302.9" cy="238.1" r="2.42" fill="#f8d3f9"/>
<circle cx="304.9" cy="242.6" r="2.42" fill="#f8d3f9"/>
<circle cx="292.4" cy="255.5" r="2.42" fill="#f8d3f9"/>
<circle cx="287.6" cy="244.1" r="2.42" fill="#f8d3f9"/>
<circle cx="283.5" cy="243.4" r="2.42" fill="#f9d8fa"/>
<circle cx="280.5" cy="249.3" r="2.42" fill="#f9d8fa"/>
<circle cx="284.2" cy="234.6" r="2.42" fill="#f9d8fa"/>
<circle cx="288.3" cy="244.2" r="2.42" fill="#f9d8fa"/>
<circle cx="296.9" cy="230.9" r="2.42" fill="#f9d8fa"/>
<circle cx="295.0" cy="230.2" r="2.42" fill="#f9d8fa"/>
<circle cx="282.6" cy="244.4" r="2.42" fill="#f9d8fa"/>
<circle cx="285.5" cy="231.9" r="2.42" fill="#fadcfa"/>
<circle cx="290.2" cy="234.6" r="2.42" fill="#fadcfa"/>
<circle cx="277.6" cy="245.9" r="2.42" fill="#fadcfa"/>
<circle cx="283.2" cy="249.6" r="2.42" fill="#fadcfa"/>
<circle cx="291.0" cy="235.9" r="2.42" fill="#fadcfa"/>
<circle cx="282.2" cy="241.9" r="2.42" fill="#fadcfa"/>
<circle cx="291.4" cy="238.6" r="2.42" fill="#fadcfa"/>
<circle cx="300.5" cy="235.3" r="2.42" fill="#fadcfa"/>
<circle cx="288.9" cy="228.1" r="2.42" fill="#fae1fb"/>
<circle cx="288.1" cy="240.2" r="2.42" fill="#fae1fb"/>
<circle cx="280.8" cy="253.1" r="2.42" fill="#fae1fb"/>
<circle cx="288.0" cy="243.3" r="2.42" fill="#fae1fb"/>
<circle cx="287.4" cy="235.1" r="2.42" fill="#fae1fb"/>
<circle cx="274.9" cy="242.2" r="2.42" fill="#fae1fb"/>
<circle cx="296.8" cy="240.8" r="2.42" fill="#fae1fb"/>
<circle cx="292.5" cy="231.9" r="2.42" fill="#fae1fb"/>
<circle cx="303.9" cy="246.1" r="2.42" fill="#fae1fb"/>
<circle cx="286.1" cy="240.1" r="2.42" fill="#fae1fb"/>
<circle cx="292.0" cy="245.7" r="2.42" fill="#fae1fb"/>
<circle cx="283.7" cy="238.1" r="2.42" fill="#fae1fb"/>
<circle cx="285.5" cy="253.9" r="2.42" fill="#fae1fb"/>
<circle cx="289.9" cy="250.7" r="2.42" fill="#fbe5fc"/>
<circle cx="280.8" cy="240.6" r="2.42" fill="#fbe5fc"/>
<circle cx="297.7" cy="235.6" r="2.42" fill="#fbe5fc"/>
<circle cx="297.2" cy="245.2" r="2.42" fill="#fbe5fc"/>
<circle cx="294.5" cy="227.8" r="2.42" fill="#fbe5fc"/>
<circle cx="283.6" cy="232.7" r="2.42" fill="#fbe5fc"/>
<circle cx="299.0" cy="249.7" r="2.42" fill="#fbe5fc"/>
<circle cx="290.1" cy="233.7" r="2.42" fill="#fbe5fc"/>
<circle cx="288.3" cy="253.6" r="2.42" fill="#fbe5fc"/>
<circle cx="291.2" cy="239.3" r="2.42" fill="#fbe5fc"/>
<circle cx="292.1" cy="245.4" r="2.42" fill="#fbe5fc"/>
<circle cx="289.3" cy="255.3" r="2.42" fill="#fbe5fc"/>
<circle cx="293.1" cy="250.4" r="2.42" fill="#fbe5fc"/>
<circle cx="284.2" cy="234.1" r="2.42" fill="#fbe5fc"/>
<circle cx="294.1" cy="242.7" r="2.42" fill="#fbe5fc"/>
<circle cx="297.5" cy="244.9" r="2.42" fill="#fbe5fc"/>
<circle cx="293.1" cy="240.6" r="2.42" fill="#fbe5fc"/>
<circle cx="286.5" cy="248.7" r="2.42" fill="#fbe5fc"/>
<circle cx="292.1" cy="236.2" r="2.42" fill="#fbe5fc"/>
<circle cx="290.9" cy="256.5" r="2.42" fill="#fbe5fc"/>
<circle cx="298.7" cy="242.7" r="2.42" fill="#fbe5fc"/>
<circle cx="284.8" cy="237.4" r="2.42" fill="#fbe5fc"/>
<circle cx="285.2" cy="245.7" r="2.42" fill="#fbe5fc"/>
<circle cx="293.7" cy="247.4" r="2.42" fill="#fceafc"/>
<circle cx="294.2" cy="249.7" r="2.42" fill="#fceafc"/>
<circle cx="284.9" cy="244.1" r="2.42" fill="#fceafc"/>
<circle cx="279.3" cy="240.4" r="2.42" fill="#fceafc"/>
<circle cx="296.6" cy="248.6" r="2.42" fill="#fceafc"/>
<circle cx="295.8" cy="251.8" r="2.42" fill="#fceafc"/>
<circle cx="300.6" cy="238.0" r="2.42" fill="#fceafc"/>
<circle cx="288.5" cy="237.5" r="2.42" fill="#fceafc"/>
<circle cx="282.6" cy="247.4" r="2.42" fill="#fceafc"/>
<circle cx="292.7" cy="230.4" r="2.42" fill="#fceafc"/>
<circle cx="286.5" cy="236.1" r="2.42" fill="#fceafc"/>
<circle cx="292.9" cy="242.4" r="2.42" fill="#fceafc"/>
<circle cx="286.9" cy="229.9" r="2.42" fill="#fceafc"/>
<circle cx="295.4" cy="235.2" r="2.42" fill="#fceafc"/>
<circle cx="292.7" cy="245.4" r="2.42" fill="#fceafc"/>
<circle cx="276.9" cy="240.9" r="2.42" fill="#fceafc"/>
<circle cx="282.3" cy="231.4" r="2.42" fill="#fceafc"/>
<circle cx="296.9" cy="250.1" r="2.42" fill="#fdeffd"/>
<circle cx="290.2" cy="248.8" r="2.42" fill="#fdeffd"/>
<circle cx="287.4" cy="240.9" r="2.42" fill="#fdeffd"/>
<circle cx="303.3" cy="244.0" r="2.42" fill="#fdeffd"/>
<circle cx="281.9" cy="235.9" r="2.42" fill="#fdeffd"/>
<circle cx="285.8" cy="223.0" r="2.42" fill="#fdeffd"/>
<circle cx="287.0" cy="230.5" r="2.42" fill="#fdeffd"/>
<circle cx="292.0" cy="225.5" r="2.42" fill="#fdeffd"/>
<circle cx="293.2" cy="233.0" r="2.42" fill="#fdeffd"/>
<circle cx="284.5" cy="235.5" r="2.42" fill="#fdeffd"/>
<circle cx="299.5" cy="228.0" r="2.42" fill="#fdeffd"/>
<circle cx="263.2" cy="242.4" r="2.42" fill="#fdeffd"/>
<circle cx="279.5" cy="245.5" r="2.42" fill="#fdeffd"/>
<circle cx="284.5" cy="241.8" r="2.42" fill="#fdeffd"/>
<circle cx="289.5" cy="245.5" r="2.42" fill="#fdeffd"/>
<circle cx="294.5" cy="241.8" r="2.42" fill="#fdeffd"/>
<circle cx="282.0" cy="251.8" r="2.42" fill="#fdeffd"/>
<circle cx="287.0" cy="254.2" r="2.42" fill="#fdeffd"/>
<circle cx="292.0" cy="250.5" r="2.42" fill="#fdeffd"/>
<circle cx="295.8" cy="255.5" r="2.42" fill="#fdeffd"/>
<circle cx="277.0" cy="249.2" r="2.42" fill="#fdeffd"/>
<circle cx="273.2" cy="246.8" r="2.42" fill="#fdeffd"/>
<circle cx="289.5" cy="260.5" r="2.42" fill="#fdeffd"/>
<circle cx="294.5" cy="261.8" r="2.42" fill="#fdeffd"/>
<circle cx="292.0" cy="258.0" r="2.42" fill="#fdeffd"/>
<circle cx="287.0" cy="249.2" r="2.42" fill="#fdeffd"/>
<circle cx="311.8" cy="246.5" r="2.42" fill="#fdeffd"/>
<circle cx="299.5" cy="243.6" r="2.42" fill="#fdeffd"/>
<circle cx="299.5" cy="258.0" r="2.42" fill="#fdeffd"/>
<circle cx="301.4" cy="261.1" r="2.42" fill="#fdeffd"/>
<circle cx="291.3" cy="247.7" r="2.42" fill="#fdeffd"/>
<circle cx="286.5" cy="238.9" r="2.42" fill="#fdeffd"/>
<circle cx="288.2" cy="248.2" r="2.42" fill="#fdeffd"/>
<circle cx="288.1" cy="236.5" r="2.42" fill="#fdeffd"/>
<circle cx="290.1" cy="237.5" r="2.42" fill="#fdeffd"/>
<circle cx="287.5" cy="242.6" r="2.42" fill="#fdeffd"/>
<circle cx="291.4" cy="237.4" r="2.42" fill="#fdeffd"/>
<circle cx="282.7" cy="248.9" r="2.42" fill="#fdf3fd"/>
<circle cx="288.9" cy="235.3" r="2.42" fill="#fdf3fd"/>
<circle cx="287.7" cy="234.9" r="2.42" fill="#fdf3fd"/>
<circle cx="288.3" cy="240.4" r="2.42" fill="#fdf3fd"/>
<circle cx="286.2" cy="235.4" r="2.42" fill="#fdf3fd"/>
<circle cx="284.5" cy="243.6" r="2.42" fill="#fdf3fd"/>
<circle cx="285.7" cy="246.5" r="2.42" fill="#fdf3fd"/>
<circle cx="293.5" cy="240.5" r="2.42" fill="#fdf3fd"/>
<circle cx="293.1" cy="250.1" r="2.42" fill="#fdf3fd"/>
<circle cx="296.2" cy="242.5" r="2.42" fill="#fef8fe"/>
<circle cx="291.4" cy="244.2" r="2.42" fill="#fef8fe"/>
<circle cx="282.9" cy="240.1" r="2.42" fill="#fef8fe"/>
<circle cx="289.1" cy="240.7" r="2.42" fill="#fef8fe"/>
</g>
<path d="M144.5 428V432.5M218.5 428V432.5M292.5 428V432.5M366.5 428V432.5M440.5 428V432.5M107 390.5H102.5M107 316.5H102.5M107 242.5H102.5M107 168.5H102.5M107 95.5H102.5M521 390.5H525.5M521 344.5H525.5M521 297.5H525.5M521 251.5H525.5M521 204.5H525.5M521 158.5H525.5M521 111.5H525.5M521 65.5H525.5" stroke="#657b83" stroke-width="1.11" fill="none"/>
<g fill="#657b83" font-size="13.89px">
<text x="144.16" y="447.5" text-anchor="middle">−4</text>
<text x="97.48" y="395.52" text-anchor="end">−4</text>
<text x="218.08" y="447.5" text-anchor="middle">−2</text>
<text x="97.48" y="321.60" text-anchor="end">−2</text>
<text x="292.00" y="447.5" text-anchor="middle">0</text>
<text x="97.48" y="247.68" text-anchor="end">0</text>
<text x="365.92" y="447.5" text-anchor="middle">2</text>
<text x="97.48" y="173.76" text-anchor="end">2</text>
<text x="439.84" y="447.5" text-anchor="middle">4</text>
<text x="97.48" y="99.84" text-anchor="end">4</text>
<text x="529.8" y="396.17">1990</text>
<text x="529.8" y="349.62">1995</text>
<text x="529.8" y="303.07">2000</text>
<text x="529.8" y="256.52">2005</text>
<text x="529.8" y="209.98">2010</text>
<text x="529.8" y="163.43">2015</text>
<text x="529.8" y="116.88">2020</text>
<text x="529.8" y="70.33">2025</text>
</g>
<g fill="#657b83" font-size="16.67px" text-anchor="middle">
<text x="292" y="468.6">RA cos Dec (mas)</text>
<text x="67.98" y="242.4" transform="rotate(-90 67.98 242.4)">Dec (mas)</text>
</g>
<text x="292" y="49.27" font-size="22.22px" text-anchor="middle" fill="#000">0454-234</text>
<defs><linearGradient id="cb" x1="0" y1="1" x2="0" y2="0"><stop offset="0.0000" stop-color="#000080"/><stop offset="0.0078" stop-color="#000f6d"/><stop offset="0.0156" stop-color="#001d5a"/><stop offset="0.0234" stop-color="#002c48"/><stop offset="0.0312" stop-color="#003a35"/><stop offset="0.0391" stop-color="#004922"/><stop offset="0.0469" stop-color="#00580f"/><stop offset="0.0547" stop-color="#005816"/><stop offset="0.0625" stop-color="#004b37"/><stop offset="0.0703" stop-color="#003d59"/><stop offset="0.0781" stop-color="#002f7a"/><stop offset="0.0859" stop-color="#00229b"/><stop offset="0.0938" stop-color="#0014bc"/><stop offset="0.1016" stop-color="#0007de"/><stop offset="0.1094" stop-color="#000eff"/><stop offset="0.1172" stop-color="#002aff"/><stop offset="0.1250" stop-color="#0047ff"/><stop offset="0.1328" stop-color="#0063ff"/><stop offset="0.1406" stop-color="#007fff"/><stop offset="0.1484" stop-color="#009bff"/><stop offset="0.1562" stop-color="#00b8ff"/><stop offset="0.1641" stop-color="#00c6ff"/><stop offset="0.1719" stop-color="#00ceff"/><stop offset="0.1797" stop-color="#00d7ff"/><stop offset="0.1875" stop-color="#00e0ff"/><stop offset="0.1953" stop-color="#00e9ff"/><stop offset="0.2031" stop-color="#00f2ff"/><stop offset="0.2109" stop-color="#00fbf2"/><stop offset="0.2188" stop-color="#00ffe5"/><stop offset="0.2266" stop-color="#00fed8"/><stop offset="0.2344" stop-color="#00fdcb"/><stop offset="0.2422" stop-color="#00fcbd"/><stop offset="0.2500" stop-color="#00fbb0"/><stop offset="0.2578" stop-color="#00faa3"/><stop offset="0.2656" stop-color="#00fa92"/><stop offset="0.2734" stop-color="#00fa7d"/><stop offset="0.2812" stop-color="#00fb68"/><stop offset="0.2891" stop-color="#00fc54"/><stop offset="0.2969" stop-color="#00fd3f"/><stop offset="0.3047" stop-color="#00fe2a"/><stop offset="0.3125" stop-color="#06ff15"/><stop offset="0.3203" stop-color="#13fb00"/><stop offset="0.3281" stop-color="#20f400"/><stop offset="0.3359" stop-color="#2dec00"/><stop offset="0.3438" stop-color="#39e500"/><stop offset="0.3516" stop-color="#46dd00"/><stop offset="0.3594" stop-color="#53d600"/><stop offset="0.3672" stop-color="#60ce00"/><stop offset="0.3750" stop-color="#68d500"/><stop offset="0.3828" stop-color="#6cdb00"/><stop offset="0.3906" stop-color="#70e200"/><stop offset="0.3984" stop-color="#74e800"/><stop offset="0.4062" stop-color="#78ef00"/><stop offset="0.4141" stop-color="#7cf500"/><stop offset="0.4219" stop-color="#80fc08"/><stop offset="0.4297" stop-color="#89ff10"/><stop offset="0.4375" stop-color="#92ff18"/><stop offset="0.4453" stop-color="#9bff20"/><stop offset="0.4531" stop-color="#a4ff28"/><stop offset="0.4609" stop-color="#adff30"/><stop offset="0.4688" stop-color="#b6ff38"/><stop offset="0.4766" stop-color="#bfff38"/><stop offset="0.4844" stop-color="#c8ff30"/><stop offset="0.4922" stop-color="#d2ff28"/><stop offset="0.5000" stop-color="#dbff20"/><stop offset="0.5078" stop-color="#e4ff18"/><stop offset="0.5156" stop-color="#edff10"/><stop offset="0.5234" stop-color="#f6fd08"/><stop offset="0.5312" stop-color="#fff800"/><stop offset="0.5391" stop-color="#fff300"/><stop offset="0.5469" stop-color="#ffee00"/><stop offset="0.5547" stop-color="#ffe900"/><stop offset="0.5625" stop-color="#ffe400"/><stop offset="0.5703" stop-color="#ffdf00"/><stop offset="0.5781" stop-color="#ffda00"/><stop offset="0.5859" stop-color="#ffd502"/><stop offset="0.5938" stop-color="#ffd004"/><stop offset="0.6016" stop-color="#ffcb06"/><stop offset="0.6094" stop-color="#ffc609"/><stop offset="0.6172" stop-color="#ffc10b"/><stop offset="0.6250" stop-color="#ffbc0d"/><stop offset="0.6328" stop-color="#ffb20d"/><stop offset="0.6406" stop-color="#ffa10b"/><stop offset="0.6484" stop-color="#ff9109"/><stop offset="0.6562" stop-color="#ff8107"/><stop offset="0.6641" stop-color="#ff7006"/><stop offset="0.6719" stop-color="#ff6004"/><stop offset="0.6797" stop-color="#ff5002"/><stop offset="0.6875" stop-color="#ff4300"/><stop offset="0.6953" stop-color="#ff3900"/><stop offset="0.7031" stop-color="#ff3000"/><stop offset="0.7109" stop-color="#ff2600"/><stop offset="0.7188" stop-color="#ff1d00"/><stop offset="0.7266" stop-color="#ff1300"/><stop offset="0.7344" stop-color="#ff0a00"/><stop offset="0.7422" stop-color="#ff0023"/><stop offset="0.7500" stop-color="#ff0047"/><stop offset="0.7578" stop-color="#ff006a"/><stop offset="0.7656" stop-color="#ff008e"/><stop offset="0.7734" stop-color="#ff00b1"/><stop offset="0.7812" stop-color="#ff00d5"/><stop offset="0.7891" stop-color="#ff00f8"/><stop offset="0.7969" stop-color="#f107ff"/><stop offset="0.8047" stop-color="#e40eff"/><stop offset="0.8125" stop-color="#d615ff"/><stop offset="0.8203" stop-color="#c81cff"/><stop offset="0.8281" stop-color="#ba22ff"/><stop offset="0.8359" stop-color="#ac29ff"/><stop offset="0.8438" stop-color="#9f33fe"/><stop offset="0.8516" stop-color="#aa3ffb"/><stop offset="0.8594" stop-color="#b64af9"/><stop offset="0.8672" stop-color="#c256f7"/><stop offset="0.8750" stop-color="#ce62f4"/><stop offset="0.8828" stop-color="#da6ef2"/><stop offset="0.8906" stop-color="#e67aef"/><stop offset="0.8984" stop-color="#ec84ef"/><stop offset="0.9062" stop-color="#ee8df0"/><stop offset="0.9141" stop-color="#ef97f1"/><stop offset="0.9219" stop-color="#f0a0f2"/><stop offset="0.9297" stop-color="#f2a9f4"/><stop offset="0.9375" stop-color="#f3b3f5"/><stop offset="0.9453" stop-color="#f5bcf6"/><stop offset="0.9531" stop-color="#f6c5f7"/><stop offset="0.9609" stop-color="#f8cef9"/><stop offset="0.9688" stop-color="#f9d8fa"/><stop offset="0.9766" stop-color="#fae1fb"/><stop offset="0.9844" stop-color="#fceafc"/><stop offset="0.9922" stop-color="#fdf3fd"/><stop offset="1.0000" stop-color="#fef8fe"/></linearGradient></defs>
<rect x="502" y="58" width="19" height="370" fill="#eee8d5"/><rect x="503" y="59" width="17" height="368" fill="url(#cb)"/>
</svg></body></html>
